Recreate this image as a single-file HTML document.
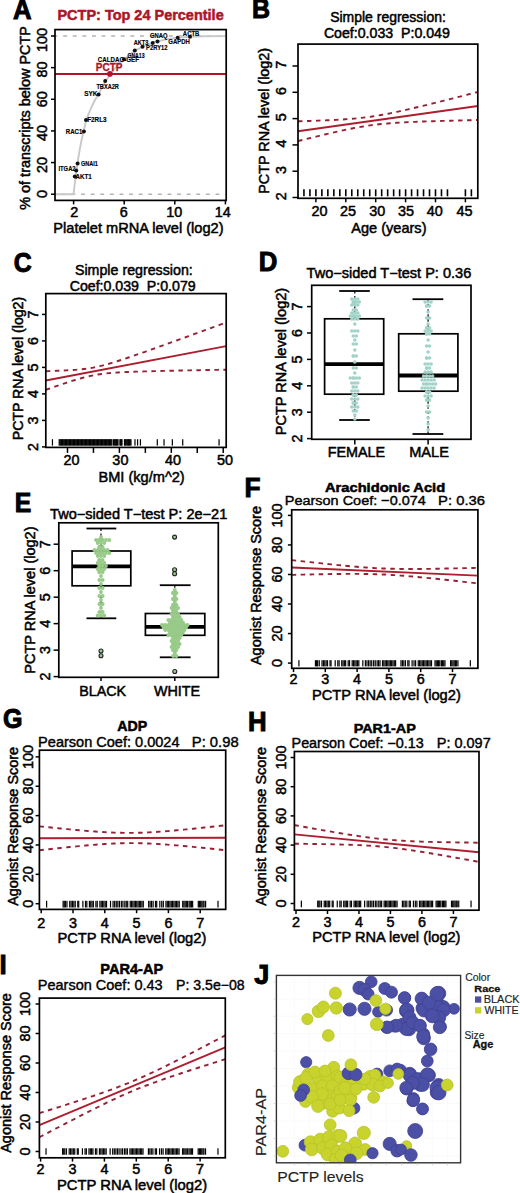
<!DOCTYPE html>
<html><head><meta charset="utf-8"><style>
html,body{margin:0;padding:0;background:#fff;}
body{width:520px;height:1193px;overflow:hidden;}
svg{display:block;font-family:"Liberation Sans",sans-serif;}
</style></head><body>
<svg width="520" height="1193" viewBox="0 0 520 1193">
<rect width="520" height="1193" fill="#fff"/>
<text x="13.06" y="18.5" font-size="27.62" textLength="18.58" lengthAdjust="spacingAndGlyphs" font-weight="bold" fill="#000" stroke="#000" stroke-width="1">A</text>
<text x="57.46" y="20.4" font-size="14.4" textLength="166.24" lengthAdjust="spacingAndGlyphs" font-weight="bold" fill="#ae1529" stroke="#ae1529" stroke-width="0.5">PCTP: Top 24 Percentile</text>
<line x1="55" y1="36" x2="226" y2="36" stroke="#b4b4b4" stroke-width="1.4" stroke-dasharray="3.9,5.7" stroke-dashoffset="1.4"/>
<line x1="55" y1="194.2" x2="226" y2="194.2" stroke="#b4b4b4" stroke-width="1.4" stroke-dasharray="3.9,5.7" stroke-dashoffset="2.7"/>
<polyline points="55,194.2 73.5,194.2 74.6,185 75.6,177 76.8,168 78.3,158 80,148 81.8,139 83.7,131 86,121 88.5,114 91.5,107 95,100 98.6,94.3 102,87.5 105.5,81.5 110,74.5 116,67 123,60.2 130,54.5 137,49.6 145,45.6 155,42 165,39.6 177,37.8 190,36.8 205,36.3 226,36.1" fill="none" stroke="#c9c9c9" stroke-width="1.9" stroke-linejoin="round"/>
<line x1="55" y1="74" x2="226" y2="74" stroke="#ae1529" stroke-width="2.1"/>
<circle cx="190" cy="36.7" r="2" fill="#111" stroke="none" stroke-width="0"/>
<text x="182.85" y="35.9" font-size="6.54" textLength="16.52" lengthAdjust="spacingAndGlyphs" font-weight="bold" fill="#000" stroke="#000" stroke-width="0.15">ACTB</text>
<circle cx="177.7" cy="37.8" r="2" fill="#111" stroke="none" stroke-width="0"/>
<text x="150.07" y="37.8" font-size="6.54" textLength="17.57" lengthAdjust="spacingAndGlyphs" font-weight="bold" fill="#000" stroke="#000" stroke-width="0.15">GNAQ</text>
<text x="168.36" y="43.9" font-size="6.54" textLength="21.53" lengthAdjust="spacingAndGlyphs" font-weight="bold" fill="#000" stroke="#000" stroke-width="0.15">GAPDH</text>
<circle cx="157.5" cy="41.6" r="2" fill="#111" stroke="none" stroke-width="0"/>
<circle cx="152.7" cy="43" r="2" fill="#111" stroke="none" stroke-width="0"/>
<text x="133.76" y="45.1" font-size="6.54" textLength="14.63" lengthAdjust="spacingAndGlyphs" font-weight="bold" fill="#000" stroke="#000" stroke-width="0.15">AKT3</text>
<circle cx="142.5" cy="46.8" r="2" fill="#111" stroke="none" stroke-width="0"/>
<text x="146.02" y="50.2" font-size="6.54" textLength="21.6" lengthAdjust="spacingAndGlyphs" font-weight="bold" fill="#000" stroke="#000" stroke-width="0.15">P2RY12</text>
<circle cx="134.8" cy="50.6" r="2" fill="#111" stroke="none" stroke-width="0"/>
<text x="127.39" y="57.5" font-size="6.54" textLength="17.18" lengthAdjust="spacingAndGlyphs" font-weight="bold" fill="#000" stroke="#000" stroke-width="0.15">GNA13</text>
<circle cx="124" cy="59.2" r="2" fill="#111" stroke="none" stroke-width="0"/>
<text x="97.85" y="61.6" font-size="6.54" textLength="41.07" lengthAdjust="spacingAndGlyphs" font-weight="bold" fill="#000" stroke="#000" stroke-width="0.15">CALDAG-GEF</text>
<circle cx="105.2" cy="81" r="2" fill="#111" stroke="none" stroke-width="0"/>
<text x="96.44" y="89.4" font-size="6.54" textLength="22.47" lengthAdjust="spacingAndGlyphs" font-weight="bold" fill="#000" stroke="#000" stroke-width="0.15">TBXA2R</text>
<circle cx="98.6" cy="94.6" r="2" fill="#111" stroke="none" stroke-width="0"/>
<text x="84.22" y="96.4" font-size="6.54" textLength="13.22" lengthAdjust="spacingAndGlyphs" font-weight="bold" fill="#000" stroke="#000" stroke-width="0.15">SYK</text>
<circle cx="86" cy="120.1" r="2" fill="#111" stroke="none" stroke-width="0"/>
<text x="87.19" y="121.9" font-size="6.54" textLength="19.43" lengthAdjust="spacingAndGlyphs" font-weight="bold" fill="#000" stroke="#000" stroke-width="0.15">F2RL3</text>
<circle cx="83.9" cy="131.5" r="2" fill="#111" stroke="none" stroke-width="0"/>
<text x="65.8" y="133.7" font-size="6.54" textLength="16.55" lengthAdjust="spacingAndGlyphs" font-weight="bold" fill="#000" stroke="#000" stroke-width="0.15">RAC1</text>
<circle cx="77.6" cy="163.4" r="2" fill="#111" stroke="none" stroke-width="0"/>
<text x="80.88" y="165.6" font-size="6.54" textLength="16.87" lengthAdjust="spacingAndGlyphs" font-weight="bold" fill="#000" stroke="#000" stroke-width="0.15">GNAI1</text>
<circle cx="76.2" cy="170.6" r="2" fill="#111" stroke="none" stroke-width="0"/>
<text x="58.42" y="170.7" font-size="6.54" textLength="17.2" lengthAdjust="spacingAndGlyphs" font-weight="bold" fill="#000" stroke="#000" stroke-width="0.15">ITGA2</text>
<circle cx="74.8" cy="176.5" r="2" fill="#111" stroke="none" stroke-width="0"/>
<text x="75.44" y="178.7" font-size="6.54" textLength="16.32" lengthAdjust="spacingAndGlyphs" font-weight="bold" fill="#000" stroke="#000" stroke-width="0.15">AKT1</text>
<circle cx="109.9" cy="73.9" r="2.8" fill="#ae1529" stroke="none" stroke-width="0"/>
<text x="95.75" y="71" font-size="10.47" textLength="26.67" lengthAdjust="spacingAndGlyphs" font-weight="bold" fill="#ae1529" stroke="#ae1529" stroke-width="0.3">PCTP</text>
<rect x="55" y="29.6" width="171.2" height="170.8" fill="none" stroke="#000" stroke-width="1.7"/>
<line x1="51" y1="194.2" x2="55" y2="194.2" stroke="#000" stroke-width="1.5"/>
<text x="46.8" y="197.9" font-size="14.4" textLength="8.01" lengthAdjust="spacingAndGlyphs" fill="#000" stroke="#000" stroke-width="0.5" transform="rotate(-90 46.8 197.9)">0</text>
<line x1="51" y1="162.56" x2="55" y2="162.56" stroke="#000" stroke-width="1.5"/>
<text x="46.8" y="173.01" font-size="14.4" textLength="16.02" lengthAdjust="spacingAndGlyphs" fill="#000" stroke="#000" stroke-width="0.5" transform="rotate(-90 46.8 173.01)">20</text>
<line x1="51" y1="130.92" x2="55" y2="130.92" stroke="#000" stroke-width="1.5"/>
<text x="46.8" y="141.01" font-size="14.4" textLength="16.02" lengthAdjust="spacingAndGlyphs" fill="#000" stroke="#000" stroke-width="0.5" transform="rotate(-90 46.8 141.01)">40</text>
<line x1="51" y1="99.28" x2="55" y2="99.28" stroke="#000" stroke-width="1.5"/>
<text x="46.8" y="107.31" font-size="14.4" textLength="16.02" lengthAdjust="spacingAndGlyphs" fill="#000" stroke="#000" stroke-width="0.5" transform="rotate(-90 46.8 107.31)">60</text>
<line x1="51" y1="67.64" x2="55" y2="67.64" stroke="#000" stroke-width="1.5"/>
<text x="46.8" y="77.51" font-size="14.4" textLength="16.02" lengthAdjust="spacingAndGlyphs" fill="#000" stroke="#000" stroke-width="0.5" transform="rotate(-90 46.8 77.51)">80</text>
<line x1="51" y1="36" x2="55" y2="36" stroke="#000" stroke-width="1.5"/>
<text x="46.8" y="52.01" font-size="14.4" textLength="24.03" lengthAdjust="spacingAndGlyphs" fill="#000" stroke="#000" stroke-width="0.5" transform="rotate(-90 46.8 52.01)">100</text>
<line x1="73.6" y1="200.4" x2="73.6" y2="204.4" stroke="#000" stroke-width="1.5"/>
<text x="70.2" y="217.4" font-size="14.4" textLength="8.01" lengthAdjust="spacingAndGlyphs" fill="#000" stroke="#000" stroke-width="0.5">2</text>
<line x1="124.2" y1="200.4" x2="124.2" y2="204.4" stroke="#000" stroke-width="1.5"/>
<text x="119.8" y="217.4" font-size="14.4" textLength="8.01" lengthAdjust="spacingAndGlyphs" fill="#000" stroke="#000" stroke-width="0.5">6</text>
<line x1="174.8" y1="200.4" x2="174.8" y2="204.4" stroke="#000" stroke-width="1.5"/>
<text x="166.19" y="217.4" font-size="14.4" textLength="16.02" lengthAdjust="spacingAndGlyphs" fill="#000" stroke="#000" stroke-width="0.5">10</text>
<line x1="225.4" y1="200.4" x2="225.4" y2="204.4" stroke="#000" stroke-width="1.5"/>
<text x="214.69" y="217.4" font-size="14.4" textLength="16.02" lengthAdjust="spacingAndGlyphs" fill="#000" stroke="#000" stroke-width="0.5">14</text>
<text x="53.33" y="233" font-size="14.4" textLength="170.23" lengthAdjust="spacingAndGlyphs" fill="#000" stroke="#000" stroke-width="0.5">Platelet mRNA level (log2)</text>
<text x="30" y="209.78" font-size="14.4" textLength="183.76" lengthAdjust="spacingAndGlyphs" fill="#000" stroke="#000" stroke-width="0.5" transform="rotate(-90 30 209.78)">% of transcripts below PCTP</text>
<text x="251.88" y="18.3" font-size="27.76" textLength="18.04" lengthAdjust="spacingAndGlyphs" font-weight="bold" fill="#000" stroke="#000" stroke-width="1">B</text>
<text x="330.17" y="21.6" font-size="14.4" textLength="115.71" lengthAdjust="spacingAndGlyphs" fill="#000" stroke="#000" stroke-width="0.5">Simple regression:</text>
<text x="323.89" y="37.5" font-size="14.4" textLength="125.96" lengthAdjust="spacingAndGlyphs" fill="#000" stroke="#000" stroke-width="0.5">Coef:0.033&#160;&#160;P:0.049</text>
<polyline points="298,121.3 300.25,121.23 302.5,121.17 304.74,121.1 306.99,121.03 309.24,120.96 311.49,120.88 313.73,120.81 315.98,120.73 318.23,120.64 320.48,120.56 322.72,120.47 324.97,120.38 327.22,120.28 329.47,120.18 331.71,120.07 333.96,119.96 336.21,119.84 338.45,119.72 340.7,119.59 342.95,119.45 345.2,119.3 347.44,119.14 349.69,118.97 351.94,118.79 354.19,118.6 356.44,118.39 358.68,118.17 360.93,117.93 363.18,117.68 365.43,117.41 367.67,117.12 369.92,116.82 372.17,116.5 374.42,116.15 376.66,115.8 378.91,115.42 381.16,115.03 383.4,114.62 385.65,114.2 387.9,113.76 390.15,113.31 392.39,112.85 394.64,112.38 396.89,111.9 399.14,111.41 401.38,110.91 403.63,110.41 405.88,109.9 408.13,109.38 410.38,108.85 412.62,108.33 414.87,107.79 417.12,107.26 419.37,106.71 421.61,106.17 423.86,105.62 426.11,105.07 428.36,104.52 430.6,103.96 432.85,103.41 435.1,102.85 437.35,102.29 439.59,101.72 441.84,101.16 444.09,100.59 446.34,100.02 448.58,99.45 450.83,98.88 453.08,98.31 455.32,97.74 457.57,97.17 459.82,96.59 462.07,96.02 464.31,95.44 466.56,94.87 468.81,94.29 471.06,93.71 473.31,93.13 475.55,92.55 477.8,91.97" fill="none" stroke="#952234" stroke-width="1.9" stroke-dasharray="4.5,4.5" stroke-linejoin="round"/>
<polyline points="298,141.1 300.25,140.54 302.5,139.97 304.74,139.41 306.99,138.85 309.24,138.29 311.49,137.74 313.73,137.18 315.98,136.63 318.23,136.09 320.48,135.54 322.72,135 324.97,134.46 327.22,133.93 329.47,133.4 331.71,132.88 333.96,132.36 336.21,131.85 338.45,131.34 340.7,130.84 342.95,130.35 345.2,129.87 347.44,129.4 349.69,128.94 351.94,128.49 354.19,128.05 356.44,127.63 358.68,127.22 360.93,126.83 363.18,126.45 365.43,126.09 367.67,125.75 369.92,125.42 372.17,125.11 374.42,124.83 376.66,124.55 378.91,124.3 381.16,124.06 383.4,123.84 385.65,123.63 387.9,123.44 390.15,123.26 392.39,123.09 394.64,122.93 396.89,122.78 399.14,122.64 401.38,122.51 403.63,122.38 405.88,122.26 408.13,122.15 410.38,122.05 412.62,121.94 414.87,121.85 417.12,121.75 419.37,121.67 421.61,121.58 423.86,121.5 426.11,121.42 428.36,121.34 430.6,121.27 432.85,121.19 435.1,121.12 437.35,121.05 439.59,120.99 441.84,120.92 444.09,120.86 446.34,120.8 448.58,120.74 450.83,120.68 453.08,120.62 455.32,120.56 457.57,120.5 459.82,120.45 462.07,120.39 464.31,120.34 466.56,120.28 468.81,120.23 471.06,120.18 473.31,120.13 475.55,120.08 477.8,120.03" fill="none" stroke="#952234" stroke-width="1.9" stroke-dasharray="4.5,4.5" stroke-linejoin="round"/>
<line x1="298" y1="131.2" x2="477.8" y2="106" stroke="#ad1e2e" stroke-width="1.9"/>
<line x1="303.94" y1="189.3" x2="303.94" y2="196.3" stroke="#000" stroke-width="1.6"/>
<line x1="309.92" y1="189.3" x2="309.92" y2="196.3" stroke="#000" stroke-width="1.6"/>
<line x1="315.9" y1="189.3" x2="315.9" y2="196.3" stroke="#000" stroke-width="1.6"/>
<line x1="321.88" y1="189.3" x2="321.88" y2="196.3" stroke="#000" stroke-width="1.6"/>
<line x1="327.86" y1="189.3" x2="327.86" y2="196.3" stroke="#000" stroke-width="1.6"/>
<line x1="333.84" y1="189.3" x2="333.84" y2="196.3" stroke="#000" stroke-width="1.6"/>
<line x1="339.82" y1="189.3" x2="339.82" y2="196.3" stroke="#000" stroke-width="1.6"/>
<line x1="345.8" y1="189.3" x2="345.8" y2="196.3" stroke="#000" stroke-width="1.6"/>
<line x1="351.78" y1="189.3" x2="351.78" y2="196.3" stroke="#000" stroke-width="1.6"/>
<line x1="357.76" y1="189.3" x2="357.76" y2="196.3" stroke="#000" stroke-width="1.6"/>
<line x1="363.74" y1="189.3" x2="363.74" y2="196.3" stroke="#000" stroke-width="1.6"/>
<line x1="369.72" y1="189.3" x2="369.72" y2="196.3" stroke="#000" stroke-width="1.6"/>
<line x1="375.7" y1="189.3" x2="375.7" y2="196.3" stroke="#000" stroke-width="1.6"/>
<line x1="381.68" y1="189.3" x2="381.68" y2="196.3" stroke="#000" stroke-width="1.6"/>
<line x1="387.66" y1="189.3" x2="387.66" y2="196.3" stroke="#000" stroke-width="1.6"/>
<line x1="393.64" y1="189.3" x2="393.64" y2="196.3" stroke="#000" stroke-width="1.6"/>
<line x1="399.62" y1="189.3" x2="399.62" y2="196.3" stroke="#000" stroke-width="1.6"/>
<line x1="405.6" y1="189.3" x2="405.6" y2="196.3" stroke="#000" stroke-width="1.6"/>
<line x1="411.58" y1="189.3" x2="411.58" y2="196.3" stroke="#000" stroke-width="1.6"/>
<line x1="417.56" y1="189.3" x2="417.56" y2="196.3" stroke="#000" stroke-width="1.6"/>
<line x1="423.54" y1="189.3" x2="423.54" y2="196.3" stroke="#000" stroke-width="1.6"/>
<line x1="429.52" y1="189.3" x2="429.52" y2="196.3" stroke="#000" stroke-width="1.6"/>
<line x1="435.5" y1="189.3" x2="435.5" y2="196.3" stroke="#000" stroke-width="1.6"/>
<line x1="441.48" y1="189.3" x2="441.48" y2="196.3" stroke="#000" stroke-width="1.6"/>
<line x1="447.46" y1="189.3" x2="447.46" y2="196.3" stroke="#000" stroke-width="1.6"/>
<line x1="465.4" y1="189.3" x2="465.4" y2="196.3" stroke="#000" stroke-width="1.6"/>
<line x1="471.38" y1="189.3" x2="471.38" y2="196.3" stroke="#000" stroke-width="1.6"/>
<rect x="298" y="44.1" width="179.8" height="154.2" fill="none" stroke="#000" stroke-width="1.7"/>
<line x1="292.5" y1="197.5" x2="298" y2="197.5" stroke="#000" stroke-width="1.5"/>
<text x="286.1" y="200.2" font-size="14.4" textLength="8.01" lengthAdjust="spacingAndGlyphs" fill="#000" stroke="#000" stroke-width="0.5" transform="rotate(-90 286.1 200.2)">2</text>
<line x1="292.5" y1="171.2" x2="298" y2="171.2" stroke="#000" stroke-width="1.5"/>
<text x="286.1" y="173.9" font-size="14.4" textLength="8.01" lengthAdjust="spacingAndGlyphs" fill="#000" stroke="#000" stroke-width="0.5" transform="rotate(-90 286.1 173.9)">3</text>
<line x1="292.5" y1="144.9" x2="298" y2="144.9" stroke="#000" stroke-width="1.5"/>
<text x="286.1" y="147.6" font-size="14.4" textLength="8.01" lengthAdjust="spacingAndGlyphs" fill="#000" stroke="#000" stroke-width="0.5" transform="rotate(-90 286.1 147.6)">4</text>
<line x1="292.5" y1="118.6" x2="298" y2="118.6" stroke="#000" stroke-width="1.5"/>
<text x="286.1" y="121.3" font-size="14.4" textLength="8.01" lengthAdjust="spacingAndGlyphs" fill="#000" stroke="#000" stroke-width="0.5" transform="rotate(-90 286.1 121.3)">5</text>
<line x1="292.5" y1="92.3" x2="298" y2="92.3" stroke="#000" stroke-width="1.5"/>
<text x="286.1" y="95" font-size="14.4" textLength="8.01" lengthAdjust="spacingAndGlyphs" fill="#000" stroke="#000" stroke-width="0.5" transform="rotate(-90 286.1 95)">6</text>
<line x1="292.5" y1="66" x2="298" y2="66" stroke="#000" stroke-width="1.5"/>
<text x="286.1" y="68.7" font-size="14.4" textLength="8.01" lengthAdjust="spacingAndGlyphs" fill="#000" stroke="#000" stroke-width="0.5" transform="rotate(-90 286.1 68.7)">7</text>
<line x1="315.9" y1="198.3" x2="315.9" y2="202.3" stroke="#000" stroke-width="1.5"/>
<text x="311.39" y="216.2" font-size="14.4" textLength="16.02" lengthAdjust="spacingAndGlyphs" fill="#000" stroke="#000" stroke-width="0.5">20</text>
<line x1="345.8" y1="198.3" x2="345.8" y2="202.3" stroke="#000" stroke-width="1.5"/>
<text x="339.99" y="216.2" font-size="14.4" textLength="16.02" lengthAdjust="spacingAndGlyphs" fill="#000" stroke="#000" stroke-width="0.5">25</text>
<line x1="375.7" y1="198.3" x2="375.7" y2="202.3" stroke="#000" stroke-width="1.5"/>
<text x="369.19" y="216.2" font-size="14.4" textLength="16.02" lengthAdjust="spacingAndGlyphs" fill="#000" stroke="#000" stroke-width="0.5">30</text>
<line x1="405.6" y1="198.3" x2="405.6" y2="202.3" stroke="#000" stroke-width="1.5"/>
<text x="397.99" y="216.2" font-size="14.4" textLength="16.02" lengthAdjust="spacingAndGlyphs" fill="#000" stroke="#000" stroke-width="0.5">35</text>
<line x1="435.5" y1="198.3" x2="435.5" y2="202.3" stroke="#000" stroke-width="1.5"/>
<text x="426.79" y="216.2" font-size="14.4" textLength="16.02" lengthAdjust="spacingAndGlyphs" fill="#000" stroke="#000" stroke-width="0.5">40</text>
<line x1="465.4" y1="198.3" x2="465.4" y2="202.3" stroke="#000" stroke-width="1.5"/>
<text x="456.39" y="216.2" font-size="14.4" textLength="16.02" lengthAdjust="spacingAndGlyphs" fill="#000" stroke="#000" stroke-width="0.5">45</text>
<text x="351.3" y="233.4" font-size="14.4" textLength="75.19" lengthAdjust="spacingAndGlyphs" fill="#000" stroke="#000" stroke-width="0.5">Age (years)</text>
<text x="268.7" y="193.7" font-size="14.4" textLength="145.81" lengthAdjust="spacingAndGlyphs" fill="#000" stroke="#000" stroke-width="0.5" transform="rotate(-90 268.7 193.7)">PCTP RNA level (log2)</text>
<text x="13.7" y="271.5" font-size="28.34" textLength="17.97" lengthAdjust="spacingAndGlyphs" font-weight="bold" fill="#000" stroke="#000" stroke-width="1">C</text>
<text x="74.96" y="275" font-size="14.4" textLength="117.84" lengthAdjust="spacingAndGlyphs" fill="#000" stroke="#000" stroke-width="0.5">Simple regression:</text>
<text x="69.69" y="290.6" font-size="14.4" textLength="125.96" lengthAdjust="spacingAndGlyphs" fill="#000" stroke="#000" stroke-width="0.5">Coef:0.039&#160;&#160;P:0.079</text>
<polyline points="45.8,371.22 48.05,371.14 50.31,371.07 52.56,370.99 54.82,370.91 57.07,370.82 59.33,370.73 61.58,370.63 63.84,370.52 66.09,370.41 68.35,370.28 70.6,370.15 72.86,370 75.11,369.83 77.37,369.65 79.62,369.44 81.88,369.22 84.13,368.96 86.39,368.67 88.64,368.35 90.9,367.99 93.16,367.6 95.41,367.16 97.66,366.68 99.92,366.16 102.17,365.61 104.43,365.02 106.68,364.4 108.94,363.76 111.19,363.1 113.45,362.41 115.7,361.71 117.96,360.99 120.21,360.26 122.47,359.52 124.72,358.78 126.98,358.02 129.23,357.26 131.49,356.49 133.75,355.71 136,354.93 138.25,354.15 140.51,353.36 142.76,352.57 145.02,351.78 147.27,350.98 149.53,350.19 151.78,349.39 154.04,348.58 156.29,347.78 158.55,346.98 160.81,346.17 163.06,345.36 165.31,344.56 167.57,343.75 169.82,342.94 172.08,342.12 174.33,341.31 176.59,340.5 178.84,339.69 181.1,338.87 183.35,338.06 185.61,337.24 187.87,336.43 190.12,335.61 192.38,334.79 194.63,333.98 196.88,333.16 199.14,332.34 201.39,331.52 203.65,330.71 205.9,329.89 208.16,329.07 210.41,328.25 212.67,327.43 214.92,326.61 217.18,325.79 219.43,324.97 221.69,324.15 223.94,323.33 226.2,322.51" fill="none" stroke="#952234" stroke-width="1.9" stroke-dasharray="4.5,4.5" stroke-linejoin="round"/>
<polyline points="45.8,389.78 48.05,389 50.31,388.21 52.56,387.43 54.82,386.65 57.07,385.88 59.33,385.11 61.58,384.35 63.84,383.6 66.09,382.85 68.35,382.12 70.6,381.39 72.86,380.68 75.11,379.99 77.37,379.31 79.62,378.66 81.88,378.02 84.13,377.42 86.39,376.85 88.64,376.31 90.9,375.81 93.16,375.34 95.41,374.92 97.66,374.54 99.92,374.2 102.17,373.89 104.43,373.62 106.68,373.38 108.94,373.16 111.19,372.96 113.45,372.79 115.7,372.63 117.96,372.49 120.21,372.36 122.47,372.24 124.72,372.12 126.98,372.02 129.23,371.92 131.49,371.83 133.75,371.75 136,371.67 138.25,371.59 140.51,371.52 142.76,371.45 145.02,371.38 147.27,371.32 149.53,371.25 151.78,371.19 154.04,371.14 156.29,371.08 158.55,371.02 160.81,370.97 163.06,370.92 165.31,370.86 167.57,370.81 169.82,370.76 172.08,370.72 174.33,370.67 176.59,370.62 178.84,370.57 181.1,370.53 183.35,370.48 185.61,370.44 187.87,370.39 190.12,370.35 192.38,370.31 194.63,370.26 196.88,370.22 199.14,370.18 201.39,370.14 203.65,370.09 205.9,370.05 208.16,370.01 210.41,369.97 212.67,369.93 214.92,369.89 217.18,369.85 219.43,369.81 221.69,369.77 223.94,369.73 226.2,369.69" fill="none" stroke="#952234" stroke-width="1.9" stroke-dasharray="4.5,4.5" stroke-linejoin="round"/>
<line x1="45.8" y1="380.5" x2="226.2" y2="346.1" stroke="#ad1e2e" stroke-width="1.9"/>
<rect x="51.85" y="439.2" width="1.2" height="6.4" fill="#000"/>
<rect x="58.6" y="439.2" width="1.2" height="6.4" fill="#000"/>
<rect x="59.39" y="439.2" width="1.2" height="6.4" fill="#000"/>
<rect x="60.19" y="439.2" width="1.2" height="6.4" fill="#000"/>
<rect x="60.99" y="439.2" width="1.2" height="6.4" fill="#000"/>
<rect x="61.79" y="439.2" width="1.2" height="6.4" fill="#000"/>
<rect x="62.59" y="439.2" width="1.2" height="6.4" fill="#000"/>
<rect x="63.39" y="439.2" width="1.2" height="6.4" fill="#000"/>
<rect x="64.19" y="439.2" width="1.2" height="6.4" fill="#000"/>
<rect x="64.98" y="439.2" width="1.2" height="6.4" fill="#000"/>
<rect x="65.78" y="439.2" width="1.2" height="6.4" fill="#000"/>
<rect x="66.58" y="439.2" width="1.2" height="6.4" fill="#000"/>
<rect x="67.38" y="439.2" width="1.2" height="6.4" fill="#000"/>
<rect x="68.18" y="439.2" width="1.2" height="6.4" fill="#000"/>
<rect x="68.98" y="439.2" width="1.2" height="6.4" fill="#000"/>
<rect x="69.77" y="439.2" width="1.2" height="6.4" fill="#000"/>
<rect x="70.57" y="439.2" width="1.2" height="6.4" fill="#000"/>
<rect x="71.37" y="439.2" width="1.2" height="6.4" fill="#000"/>
<rect x="72.17" y="439.2" width="1.2" height="6.4" fill="#000"/>
<rect x="72.97" y="439.2" width="1.2" height="6.4" fill="#000"/>
<rect x="73.77" y="439.2" width="1.2" height="6.4" fill="#000"/>
<rect x="74.57" y="439.2" width="1.2" height="6.4" fill="#000"/>
<rect x="75.36" y="439.2" width="1.2" height="6.4" fill="#000"/>
<rect x="76.16" y="439.2" width="1.2" height="6.4" fill="#000"/>
<rect x="76.96" y="439.2" width="1.2" height="6.4" fill="#000"/>
<rect x="77.76" y="439.2" width="1.2" height="6.4" fill="#000"/>
<rect x="78.56" y="439.2" width="1.2" height="6.4" fill="#000"/>
<rect x="79.36" y="439.2" width="1.2" height="6.4" fill="#000"/>
<rect x="80.15" y="439.2" width="1.2" height="6.4" fill="#000"/>
<rect x="80.95" y="439.2" width="1.2" height="6.4" fill="#000"/>
<rect x="81.75" y="439.2" width="1.2" height="6.4" fill="#000"/>
<rect x="82.55" y="439.2" width="1.2" height="6.4" fill="#000"/>
<rect x="83.35" y="439.2" width="1.2" height="6.4" fill="#000"/>
<rect x="84.15" y="439.2" width="1.2" height="6.4" fill="#000"/>
<rect x="84.95" y="439.2" width="1.2" height="6.4" fill="#000"/>
<rect x="85.74" y="439.2" width="1.2" height="6.4" fill="#000"/>
<rect x="86.54" y="439.2" width="1.2" height="6.4" fill="#000"/>
<rect x="87.34" y="439.2" width="1.2" height="6.4" fill="#000"/>
<rect x="88.14" y="439.2" width="1.2" height="6.4" fill="#000"/>
<rect x="88.94" y="439.2" width="1.2" height="6.4" fill="#000"/>
<rect x="89.74" y="439.2" width="1.2" height="6.4" fill="#000"/>
<rect x="90.53" y="439.2" width="1.2" height="6.4" fill="#000"/>
<rect x="91.33" y="439.2" width="1.2" height="6.4" fill="#000"/>
<rect x="92.13" y="439.2" width="1.2" height="6.4" fill="#000"/>
<rect x="92.93" y="439.2" width="1.2" height="6.4" fill="#000"/>
<rect x="93.73" y="439.2" width="1.2" height="6.4" fill="#000"/>
<rect x="94.53" y="439.2" width="1.2" height="6.4" fill="#000"/>
<rect x="95.33" y="439.2" width="1.2" height="6.4" fill="#000"/>
<rect x="96.12" y="439.2" width="1.2" height="6.4" fill="#000"/>
<rect x="96.92" y="439.2" width="1.2" height="6.4" fill="#000"/>
<rect x="97.72" y="439.2" width="1.2" height="6.4" fill="#000"/>
<rect x="98.52" y="439.2" width="1.2" height="6.4" fill="#000"/>
<rect x="99.32" y="439.2" width="1.2" height="6.4" fill="#000"/>
<rect x="100.12" y="439.2" width="1.2" height="6.4" fill="#000"/>
<rect x="100.91" y="439.2" width="1.2" height="6.4" fill="#000"/>
<rect x="101.71" y="439.2" width="1.2" height="6.4" fill="#000"/>
<rect x="102.51" y="439.2" width="1.2" height="6.4" fill="#000"/>
<rect x="103.31" y="439.2" width="1.2" height="6.4" fill="#000"/>
<rect x="104.11" y="439.2" width="1.2" height="6.4" fill="#000"/>
<rect x="104.91" y="439.2" width="1.2" height="6.4" fill="#000"/>
<rect x="105.71" y="439.2" width="1.2" height="6.4" fill="#000"/>
<rect x="106.5" y="439.2" width="1.2" height="6.4" fill="#000"/>
<rect x="107.3" y="439.2" width="1.2" height="6.4" fill="#000"/>
<rect x="108.1" y="439.2" width="1.2" height="6.4" fill="#000"/>
<rect x="108.9" y="439.2" width="1.2" height="6.4" fill="#000"/>
<rect x="109.7" y="439.2" width="1.2" height="6.4" fill="#000"/>
<rect x="110.5" y="439.2" width="1.2" height="6.4" fill="#000"/>
<rect x="111.27" y="439.2" width="1.2" height="6.4" fill="#000"/>
<rect x="112.88" y="439.2" width="1.2" height="6.4" fill="#000"/>
<rect x="113.64" y="439.2" width="1.2" height="6.4" fill="#000"/>
<rect x="114.39" y="439.2" width="1.2" height="6.4" fill="#000"/>
<rect x="115.14" y="439.2" width="1.2" height="6.4" fill="#000"/>
<rect x="115.89" y="439.2" width="1.2" height="6.4" fill="#000"/>
<rect x="116.65" y="439.2" width="1.2" height="6.4" fill="#000"/>
<rect x="117.4" y="439.2" width="1.2" height="6.4" fill="#000"/>
<rect x="119.32" y="439.2" width="1.2" height="6.4" fill="#000"/>
<rect x="120.01" y="439.2" width="1.2" height="6.4" fill="#000"/>
<rect x="120.7" y="439.2" width="1.2" height="6.4" fill="#000"/>
<rect x="121.4" y="439.2" width="1.2" height="6.4" fill="#000"/>
<rect x="123.89" y="439.2" width="1.2" height="6.4" fill="#000"/>
<rect x="124.7" y="439.2" width="1.2" height="6.4" fill="#000"/>
<rect x="125.51" y="439.2" width="1.2" height="6.4" fill="#000"/>
<rect x="126.32" y="439.2" width="1.2" height="6.4" fill="#000"/>
<rect x="127.13" y="439.2" width="1.2" height="6.4" fill="#000"/>
<rect x="127.94" y="439.2" width="1.2" height="6.4" fill="#000"/>
<rect x="128.75" y="439.2" width="1.2" height="6.4" fill="#000"/>
<rect x="129.56" y="439.2" width="1.2" height="6.4" fill="#000"/>
<rect x="130.37" y="439.2" width="1.2" height="6.4" fill="#000"/>
<rect x="134.37" y="439.2" width="1.2" height="6.4" fill="#000"/>
<rect x="136.97" y="439.2" width="1.2" height="6.4" fill="#000"/>
<rect x="139.82" y="439.2" width="1.2" height="6.4" fill="#000"/>
<rect x="156.69" y="439.2" width="1.2" height="6.4" fill="#000"/>
<rect x="163.43" y="439.2" width="1.2" height="6.4" fill="#000"/>
<rect x="171.74" y="439.2" width="1.2" height="6.4" fill="#000"/>
<rect x="182.12" y="439.2" width="1.2" height="6.4" fill="#000"/>
<rect x="218.45" y="439.2" width="1.2" height="6.4" fill="#000"/>
<rect x="45.8" y="293.6" width="180.4" height="153.8" fill="none" stroke="#000" stroke-width="1.7"/>
<line x1="42" y1="446.9" x2="45.8" y2="446.9" stroke="#000" stroke-width="1.5"/>
<text x="38.4" y="450.9" font-size="14.4" textLength="8.01" lengthAdjust="spacingAndGlyphs" fill="#000" stroke="#000" stroke-width="0.5" transform="rotate(-90 38.4 450.9)">2</text>
<line x1="42" y1="420.4" x2="45.8" y2="420.4" stroke="#000" stroke-width="1.5"/>
<text x="38.4" y="424.4" font-size="14.4" textLength="8.01" lengthAdjust="spacingAndGlyphs" fill="#000" stroke="#000" stroke-width="0.5" transform="rotate(-90 38.4 424.4)">3</text>
<line x1="42" y1="393.9" x2="45.8" y2="393.9" stroke="#000" stroke-width="1.5"/>
<text x="38.4" y="397.9" font-size="14.4" textLength="8.01" lengthAdjust="spacingAndGlyphs" fill="#000" stroke="#000" stroke-width="0.5" transform="rotate(-90 38.4 397.9)">4</text>
<line x1="42" y1="367.4" x2="45.8" y2="367.4" stroke="#000" stroke-width="1.5"/>
<text x="38.4" y="371.4" font-size="14.4" textLength="8.01" lengthAdjust="spacingAndGlyphs" fill="#000" stroke="#000" stroke-width="0.5" transform="rotate(-90 38.4 371.4)">5</text>
<line x1="42" y1="340.9" x2="45.8" y2="340.9" stroke="#000" stroke-width="1.5"/>
<text x="38.4" y="344.9" font-size="14.4" textLength="8.01" lengthAdjust="spacingAndGlyphs" fill="#000" stroke="#000" stroke-width="0.5" transform="rotate(-90 38.4 344.9)">6</text>
<line x1="42" y1="314.4" x2="45.8" y2="314.4" stroke="#000" stroke-width="1.5"/>
<text x="38.4" y="318.4" font-size="14.4" textLength="8.01" lengthAdjust="spacingAndGlyphs" fill="#000" stroke="#000" stroke-width="0.5" transform="rotate(-90 38.4 318.4)">7</text>
<line x1="67.5" y1="447.4" x2="67.5" y2="452.9" stroke="#000" stroke-width="1.5"/>
<text x="63.49" y="465.3" font-size="14.4" textLength="16.02" lengthAdjust="spacingAndGlyphs" fill="#000" stroke="#000" stroke-width="0.5">20</text>
<line x1="93.45" y1="447.4" x2="93.45" y2="452.9" stroke="#000" stroke-width="1.5"/>
<line x1="119.4" y1="447.4" x2="119.4" y2="452.9" stroke="#000" stroke-width="1.5"/>
<text x="112.39" y="465.3" font-size="14.4" textLength="16.02" lengthAdjust="spacingAndGlyphs" fill="#000" stroke="#000" stroke-width="0.5">30</text>
<line x1="145.35" y1="447.4" x2="145.35" y2="452.9" stroke="#000" stroke-width="1.5"/>
<line x1="171.3" y1="447.4" x2="171.3" y2="452.9" stroke="#000" stroke-width="1.5"/>
<text x="165.09" y="465.3" font-size="14.4" textLength="16.02" lengthAdjust="spacingAndGlyphs" fill="#000" stroke="#000" stroke-width="0.5">40</text>
<line x1="197.25" y1="447.4" x2="197.25" y2="452.9" stroke="#000" stroke-width="1.5"/>
<line x1="223.2" y1="447.4" x2="223.2" y2="452.9" stroke="#000" stroke-width="1.5"/>
<text x="216.99" y="465.3" font-size="14.4" textLength="16.02" lengthAdjust="spacingAndGlyphs" fill="#000" stroke="#000" stroke-width="0.5">50</text>
<text x="98.53" y="482" font-size="14.4" textLength="86.16" lengthAdjust="spacingAndGlyphs" fill="#000" stroke="#000" stroke-width="0.5">BMI (kg/m^2)</text>
<text x="22.8" y="440.29" font-size="14.4" textLength="143.47" lengthAdjust="spacingAndGlyphs" fill="#000" stroke="#000" stroke-width="0.5" transform="rotate(-90 22.8 440.29)">PCTP RNA level (log2)</text>
<text x="258.83" y="271.2" font-size="27.33" textLength="18.6" lengthAdjust="spacingAndGlyphs" font-weight="bold" fill="#000" stroke="#000" stroke-width="1">D</text>
<text x="306.61" y="277.6" font-size="14.4" textLength="164.64" lengthAdjust="spacingAndGlyphs" fill="#000" stroke="#000" stroke-width="0.5">Two−sided T−test P: 0.36</text>
<line x1="354.8" y1="291" x2="354.8" y2="318.8" stroke="#000" stroke-width="1.2" stroke-dasharray="2.5,2.5"/>
<line x1="354.8" y1="394.2" x2="354.8" y2="420" stroke="#000" stroke-width="1.2" stroke-dasharray="2.5,2.5"/>
<line x1="339.2" y1="291" x2="369.8" y2="291" stroke="#000" stroke-width="1.8"/>
<line x1="339.2" y1="420" x2="369.8" y2="420" stroke="#000" stroke-width="1.8"/>
<rect x="324.6" y="318.8" width="59.1" height="75.4" fill="none" stroke="#000" stroke-width="1.7"/>
<line x1="324.6" y1="364.2" x2="383.7" y2="364.2" stroke="#000" stroke-width="3.8"/>
<line x1="428.1" y1="299.2" x2="428.1" y2="333.8" stroke="#000" stroke-width="1.2" stroke-dasharray="2.5,2.5"/>
<line x1="428.1" y1="391.2" x2="428.1" y2="434" stroke="#000" stroke-width="1.2" stroke-dasharray="2.5,2.5"/>
<line x1="412.5" y1="299.2" x2="443.3" y2="299.2" stroke="#000" stroke-width="1.8"/>
<line x1="412.5" y1="434" x2="443.3" y2="434" stroke="#000" stroke-width="1.8"/>
<rect x="398.7" y="333.8" width="59.2" height="57.4" fill="none" stroke="#000" stroke-width="1.7"/>
<line x1="398.7" y1="375.5" x2="457.9" y2="375.5" stroke="#000" stroke-width="3.8"/>
<circle cx="354.8" cy="299" r="1.8" fill="#a2d3c8" stroke="none" stroke-width="0"/>
<circle cx="357.8" cy="299" r="1.8" fill="#a2d3c8" stroke="none" stroke-width="0"/>
<circle cx="351.8" cy="299" r="1.8" fill="#a2d3c8" stroke="none" stroke-width="0"/>
<circle cx="356.3" cy="302" r="1.8" fill="#a2d3c8" stroke="none" stroke-width="0"/>
<circle cx="359.3" cy="302" r="1.8" fill="#a2d3c8" stroke="none" stroke-width="0"/>
<circle cx="353.3" cy="302" r="1.8" fill="#a2d3c8" stroke="none" stroke-width="0"/>
<circle cx="353.3" cy="302" r="1.8" fill="#a2d3c8" stroke="none" stroke-width="0"/>
<circle cx="354.8" cy="305" r="1.8" fill="#a2d3c8" stroke="none" stroke-width="0"/>
<circle cx="357.8" cy="305" r="1.8" fill="#a2d3c8" stroke="none" stroke-width="0"/>
<circle cx="351.8" cy="305" r="1.8" fill="#a2d3c8" stroke="none" stroke-width="0"/>
<circle cx="356.3" cy="310" r="1.8" fill="#a2d3c8" stroke="none" stroke-width="0"/>
<circle cx="353.3" cy="310" r="1.8" fill="#a2d3c8" stroke="none" stroke-width="0"/>
<circle cx="354.8" cy="313" r="1.8" fill="#a2d3c8" stroke="none" stroke-width="0"/>
<circle cx="357.8" cy="313" r="1.8" fill="#a2d3c8" stroke="none" stroke-width="0"/>
<circle cx="351.8" cy="313" r="1.8" fill="#a2d3c8" stroke="none" stroke-width="0"/>
<circle cx="356.3" cy="316" r="1.8" fill="#a2d3c8" stroke="none" stroke-width="0"/>
<circle cx="359.3" cy="316" r="1.8" fill="#a2d3c8" stroke="none" stroke-width="0"/>
<circle cx="353.3" cy="316" r="1.8" fill="#a2d3c8" stroke="none" stroke-width="0"/>
<circle cx="350.3" cy="316" r="1.8" fill="#a2d3c8" stroke="none" stroke-width="0"/>
<circle cx="353.3" cy="316" r="1.8" fill="#a2d3c8" stroke="none" stroke-width="0"/>
<circle cx="354.8" cy="319" r="1.8" fill="#a2d3c8" stroke="none" stroke-width="0"/>
<circle cx="357.8" cy="319" r="1.8" fill="#a2d3c8" stroke="none" stroke-width="0"/>
<circle cx="351.8" cy="319" r="1.8" fill="#a2d3c8" stroke="none" stroke-width="0"/>
<circle cx="354.8" cy="324" r="1.8" fill="#a2d3c8" stroke="none" stroke-width="0"/>
<circle cx="354.8" cy="331" r="1.8" fill="#a2d3c8" stroke="none" stroke-width="0"/>
<circle cx="357.8" cy="331" r="1.8" fill="#a2d3c8" stroke="none" stroke-width="0"/>
<circle cx="351.8" cy="331" r="1.8" fill="#a2d3c8" stroke="none" stroke-width="0"/>
<circle cx="356.3" cy="336" r="1.8" fill="#a2d3c8" stroke="none" stroke-width="0"/>
<circle cx="353.3" cy="336" r="1.8" fill="#a2d3c8" stroke="none" stroke-width="0"/>
<circle cx="354.8" cy="340" r="1.8" fill="#a2d3c8" stroke="none" stroke-width="0"/>
<circle cx="356.3" cy="344" r="1.8" fill="#a2d3c8" stroke="none" stroke-width="0"/>
<circle cx="353.3" cy="344" r="1.8" fill="#a2d3c8" stroke="none" stroke-width="0"/>
<circle cx="354.8" cy="350" r="1.8" fill="#a2d3c8" stroke="none" stroke-width="0"/>
<circle cx="356.3" cy="356" r="1.8" fill="#a2d3c8" stroke="none" stroke-width="0"/>
<circle cx="353.3" cy="356" r="1.8" fill="#a2d3c8" stroke="none" stroke-width="0"/>
<circle cx="353.3" cy="356" r="1.8" fill="#a2d3c8" stroke="none" stroke-width="0"/>
<circle cx="354.8" cy="362" r="1.8" fill="#a2d3c8" stroke="none" stroke-width="0"/>
<circle cx="356.3" cy="368" r="1.8" fill="#a2d3c8" stroke="none" stroke-width="0"/>
<circle cx="353.3" cy="368" r="1.8" fill="#a2d3c8" stroke="none" stroke-width="0"/>
<circle cx="354.8" cy="373" r="1.8" fill="#a2d3c8" stroke="none" stroke-width="0"/>
<circle cx="356.3" cy="378" r="1.8" fill="#a2d3c8" stroke="none" stroke-width="0"/>
<circle cx="359.3" cy="378" r="1.8" fill="#a2d3c8" stroke="none" stroke-width="0"/>
<circle cx="353.3" cy="378" r="1.8" fill="#a2d3c8" stroke="none" stroke-width="0"/>
<circle cx="350.3" cy="378" r="1.8" fill="#a2d3c8" stroke="none" stroke-width="0"/>
<circle cx="353.3" cy="378" r="1.8" fill="#a2d3c8" stroke="none" stroke-width="0"/>
<circle cx="354.8" cy="383" r="1.8" fill="#a2d3c8" stroke="none" stroke-width="0"/>
<circle cx="357.8" cy="383" r="1.8" fill="#a2d3c8" stroke="none" stroke-width="0"/>
<circle cx="351.8" cy="383" r="1.8" fill="#a2d3c8" stroke="none" stroke-width="0"/>
<circle cx="356.3" cy="387" r="1.8" fill="#a2d3c8" stroke="none" stroke-width="0"/>
<circle cx="353.3" cy="387" r="1.8" fill="#a2d3c8" stroke="none" stroke-width="0"/>
<circle cx="353.3" cy="387" r="1.8" fill="#a2d3c8" stroke="none" stroke-width="0"/>
<circle cx="354.8" cy="391" r="1.8" fill="#a2d3c8" stroke="none" stroke-width="0"/>
<circle cx="357.8" cy="391" r="1.8" fill="#a2d3c8" stroke="none" stroke-width="0"/>
<circle cx="351.8" cy="391" r="1.8" fill="#a2d3c8" stroke="none" stroke-width="0"/>
<circle cx="356.3" cy="395" r="1.8" fill="#a2d3c8" stroke="none" stroke-width="0"/>
<circle cx="353.3" cy="395" r="1.8" fill="#a2d3c8" stroke="none" stroke-width="0"/>
<circle cx="353.3" cy="395" r="1.8" fill="#a2d3c8" stroke="none" stroke-width="0"/>
<circle cx="354.8" cy="399" r="1.8" fill="#a2d3c8" stroke="none" stroke-width="0"/>
<circle cx="357.8" cy="399" r="1.8" fill="#a2d3c8" stroke="none" stroke-width="0"/>
<circle cx="351.8" cy="399" r="1.8" fill="#a2d3c8" stroke="none" stroke-width="0"/>
<circle cx="356.3" cy="403" r="1.8" fill="#a2d3c8" stroke="none" stroke-width="0"/>
<circle cx="353.3" cy="403" r="1.8" fill="#a2d3c8" stroke="none" stroke-width="0"/>
<circle cx="353.3" cy="403" r="1.8" fill="#a2d3c8" stroke="none" stroke-width="0"/>
<circle cx="354.8" cy="407" r="1.8" fill="#a2d3c8" stroke="none" stroke-width="0"/>
<circle cx="357.8" cy="407" r="1.8" fill="#a2d3c8" stroke="none" stroke-width="0"/>
<circle cx="351.8" cy="407" r="1.8" fill="#a2d3c8" stroke="none" stroke-width="0"/>
<circle cx="356.3" cy="411" r="1.8" fill="#a2d3c8" stroke="none" stroke-width="0"/>
<circle cx="353.3" cy="411" r="1.8" fill="#a2d3c8" stroke="none" stroke-width="0"/>
<circle cx="354.8" cy="415" r="1.8" fill="#a2d3c8" stroke="none" stroke-width="0"/>
<circle cx="354.8" cy="419" r="1.8" fill="#a2d3c8" stroke="none" stroke-width="0"/>
<circle cx="428.1" cy="302" r="1.8" fill="#a2d3c8" stroke="none" stroke-width="0"/>
<circle cx="431.1" cy="302" r="1.8" fill="#a2d3c8" stroke="none" stroke-width="0"/>
<circle cx="425.1" cy="302" r="1.8" fill="#a2d3c8" stroke="none" stroke-width="0"/>
<circle cx="429.6" cy="306" r="1.8" fill="#a2d3c8" stroke="none" stroke-width="0"/>
<circle cx="426.6" cy="306" r="1.8" fill="#a2d3c8" stroke="none" stroke-width="0"/>
<circle cx="426.6" cy="306" r="1.8" fill="#a2d3c8" stroke="none" stroke-width="0"/>
<circle cx="428.1" cy="312" r="1.8" fill="#a2d3c8" stroke="none" stroke-width="0"/>
<circle cx="429.6" cy="318" r="1.8" fill="#a2d3c8" stroke="none" stroke-width="0"/>
<circle cx="426.6" cy="318" r="1.8" fill="#a2d3c8" stroke="none" stroke-width="0"/>
<circle cx="428.1" cy="324" r="1.8" fill="#a2d3c8" stroke="none" stroke-width="0"/>
<circle cx="429.6" cy="328" r="1.8" fill="#a2d3c8" stroke="none" stroke-width="0"/>
<circle cx="426.6" cy="328" r="1.8" fill="#a2d3c8" stroke="none" stroke-width="0"/>
<circle cx="426.6" cy="328" r="1.8" fill="#a2d3c8" stroke="none" stroke-width="0"/>
<circle cx="428.1" cy="331" r="1.8" fill="#a2d3c8" stroke="none" stroke-width="0"/>
<circle cx="431.1" cy="331" r="1.8" fill="#a2d3c8" stroke="none" stroke-width="0"/>
<circle cx="425.1" cy="331" r="1.8" fill="#a2d3c8" stroke="none" stroke-width="0"/>
<circle cx="429.6" cy="334" r="1.8" fill="#a2d3c8" stroke="none" stroke-width="0"/>
<circle cx="426.6" cy="334" r="1.8" fill="#a2d3c8" stroke="none" stroke-width="0"/>
<circle cx="426.6" cy="334" r="1.8" fill="#a2d3c8" stroke="none" stroke-width="0"/>
<circle cx="428.1" cy="340" r="1.8" fill="#a2d3c8" stroke="none" stroke-width="0"/>
<circle cx="429.6" cy="346" r="1.8" fill="#a2d3c8" stroke="none" stroke-width="0"/>
<circle cx="426.6" cy="346" r="1.8" fill="#a2d3c8" stroke="none" stroke-width="0"/>
<circle cx="428.1" cy="352" r="1.8" fill="#a2d3c8" stroke="none" stroke-width="0"/>
<circle cx="429.6" cy="358" r="1.8" fill="#a2d3c8" stroke="none" stroke-width="0"/>
<circle cx="426.6" cy="358" r="1.8" fill="#a2d3c8" stroke="none" stroke-width="0"/>
<circle cx="426.6" cy="358" r="1.8" fill="#a2d3c8" stroke="none" stroke-width="0"/>
<circle cx="428.1" cy="364" r="1.8" fill="#a2d3c8" stroke="none" stroke-width="0"/>
<circle cx="431.1" cy="364" r="1.8" fill="#a2d3c8" stroke="none" stroke-width="0"/>
<circle cx="425.1" cy="364" r="1.8" fill="#a2d3c8" stroke="none" stroke-width="0"/>
<circle cx="429.6" cy="368" r="1.8" fill="#a2d3c8" stroke="none" stroke-width="0"/>
<circle cx="426.6" cy="368" r="1.8" fill="#a2d3c8" stroke="none" stroke-width="0"/>
<circle cx="426.6" cy="368" r="1.8" fill="#a2d3c8" stroke="none" stroke-width="0"/>
<circle cx="428.1" cy="372" r="1.8" fill="#a2d3c8" stroke="none" stroke-width="0"/>
<circle cx="431.1" cy="372" r="1.8" fill="#a2d3c8" stroke="none" stroke-width="0"/>
<circle cx="425.1" cy="372" r="1.8" fill="#a2d3c8" stroke="none" stroke-width="0"/>
<circle cx="429.6" cy="376" r="1.8" fill="#a2d3c8" stroke="none" stroke-width="0"/>
<circle cx="432.6" cy="376" r="1.8" fill="#a2d3c8" stroke="none" stroke-width="0"/>
<circle cx="426.6" cy="376" r="1.8" fill="#a2d3c8" stroke="none" stroke-width="0"/>
<circle cx="423.6" cy="376" r="1.8" fill="#a2d3c8" stroke="none" stroke-width="0"/>
<circle cx="426.6" cy="376" r="1.8" fill="#a2d3c8" stroke="none" stroke-width="0"/>
<circle cx="428.1" cy="380" r="1.8" fill="#a2d3c8" stroke="none" stroke-width="0"/>
<circle cx="431.1" cy="380" r="1.8" fill="#a2d3c8" stroke="none" stroke-width="0"/>
<circle cx="425.1" cy="380" r="1.8" fill="#a2d3c8" stroke="none" stroke-width="0"/>
<circle cx="434.1" cy="380" r="1.8" fill="#a2d3c8" stroke="none" stroke-width="0"/>
<circle cx="422.1" cy="380" r="1.8" fill="#a2d3c8" stroke="none" stroke-width="0"/>
<circle cx="429.6" cy="384" r="1.8" fill="#a2d3c8" stroke="none" stroke-width="0"/>
<circle cx="432.6" cy="384" r="1.8" fill="#a2d3c8" stroke="none" stroke-width="0"/>
<circle cx="426.6" cy="384" r="1.8" fill="#a2d3c8" stroke="none" stroke-width="0"/>
<circle cx="435.6" cy="384" r="1.8" fill="#a2d3c8" stroke="none" stroke-width="0"/>
<circle cx="423.6" cy="384" r="1.8" fill="#a2d3c8" stroke="none" stroke-width="0"/>
<circle cx="426.6" cy="384" r="1.8" fill="#a2d3c8" stroke="none" stroke-width="0"/>
<circle cx="428.1" cy="388" r="1.8" fill="#a2d3c8" stroke="none" stroke-width="0"/>
<circle cx="431.1" cy="388" r="1.8" fill="#a2d3c8" stroke="none" stroke-width="0"/>
<circle cx="425.1" cy="388" r="1.8" fill="#a2d3c8" stroke="none" stroke-width="0"/>
<circle cx="434.1" cy="388" r="1.8" fill="#a2d3c8" stroke="none" stroke-width="0"/>
<circle cx="422.1" cy="388" r="1.8" fill="#a2d3c8" stroke="none" stroke-width="0"/>
<circle cx="429.6" cy="392" r="1.8" fill="#a2d3c8" stroke="none" stroke-width="0"/>
<circle cx="426.6" cy="392" r="1.8" fill="#a2d3c8" stroke="none" stroke-width="0"/>
<circle cx="426.6" cy="392" r="1.8" fill="#a2d3c8" stroke="none" stroke-width="0"/>
<circle cx="428.1" cy="396" r="1.8" fill="#a2d3c8" stroke="none" stroke-width="0"/>
<circle cx="431.1" cy="396" r="1.8" fill="#a2d3c8" stroke="none" stroke-width="0"/>
<circle cx="425.1" cy="396" r="1.8" fill="#a2d3c8" stroke="none" stroke-width="0"/>
<circle cx="429.6" cy="400" r="1.8" fill="#a2d3c8" stroke="none" stroke-width="0"/>
<circle cx="426.6" cy="400" r="1.8" fill="#a2d3c8" stroke="none" stroke-width="0"/>
<circle cx="426.6" cy="400" r="1.8" fill="#a2d3c8" stroke="none" stroke-width="0"/>
<circle cx="428.1" cy="406" r="1.8" fill="#a2d3c8" stroke="none" stroke-width="0"/>
<circle cx="429.6" cy="412" r="1.8" fill="#a2d3c8" stroke="none" stroke-width="0"/>
<circle cx="426.6" cy="412" r="1.8" fill="#a2d3c8" stroke="none" stroke-width="0"/>
<circle cx="428.1" cy="418" r="1.8" fill="#a2d3c8" stroke="none" stroke-width="0"/>
<circle cx="428.1" cy="424" r="1.8" fill="#a2d3c8" stroke="none" stroke-width="0"/>
<circle cx="428.1" cy="430" r="1.8" fill="#a2d3c8" stroke="none" stroke-width="0"/>
<rect x="311.7" y="285.3" width="159.3" height="154" fill="none" stroke="#000" stroke-width="1.7"/>
<line x1="307" y1="438.6" x2="311.7" y2="438.6" stroke="#000" stroke-width="1.5"/>
<text x="301.6" y="442.6" font-size="14.4" textLength="8.01" lengthAdjust="spacingAndGlyphs" fill="#000" stroke="#000" stroke-width="0.5" transform="rotate(-90 301.6 442.6)">2</text>
<line x1="307" y1="412.2" x2="311.7" y2="412.2" stroke="#000" stroke-width="1.5"/>
<text x="301.6" y="416.2" font-size="14.4" textLength="8.01" lengthAdjust="spacingAndGlyphs" fill="#000" stroke="#000" stroke-width="0.5" transform="rotate(-90 301.6 416.2)">3</text>
<line x1="307" y1="385.8" x2="311.7" y2="385.8" stroke="#000" stroke-width="1.5"/>
<text x="301.6" y="389.8" font-size="14.4" textLength="8.01" lengthAdjust="spacingAndGlyphs" fill="#000" stroke="#000" stroke-width="0.5" transform="rotate(-90 301.6 389.8)">4</text>
<line x1="307" y1="359.4" x2="311.7" y2="359.4" stroke="#000" stroke-width="1.5"/>
<text x="301.6" y="363.4" font-size="14.4" textLength="8.01" lengthAdjust="spacingAndGlyphs" fill="#000" stroke="#000" stroke-width="0.5" transform="rotate(-90 301.6 363.4)">5</text>
<line x1="307" y1="333" x2="311.7" y2="333" stroke="#000" stroke-width="1.5"/>
<text x="301.6" y="337" font-size="14.4" textLength="8.01" lengthAdjust="spacingAndGlyphs" fill="#000" stroke="#000" stroke-width="0.5" transform="rotate(-90 301.6 337)">6</text>
<line x1="307" y1="306.6" x2="311.7" y2="306.6" stroke="#000" stroke-width="1.5"/>
<text x="301.6" y="310.6" font-size="14.4" textLength="8.01" lengthAdjust="spacingAndGlyphs" fill="#000" stroke="#000" stroke-width="0.5" transform="rotate(-90 301.6 310.6)">7</text>
<line x1="354.8" y1="439.3" x2="354.8" y2="444.6" stroke="#000" stroke-width="1.5"/>
<line x1="428.1" y1="439.3" x2="428.1" y2="444.6" stroke="#000" stroke-width="1.5"/>
<text x="327.65" y="457.3" font-size="14.4" textLength="57.54" lengthAdjust="spacingAndGlyphs" fill="#000" stroke="#000" stroke-width="0.5">FEMALE</text>
<text x="409.23" y="457" font-size="14.4" textLength="39.7" lengthAdjust="spacingAndGlyphs" fill="#000" stroke="#000" stroke-width="0.5">MALE</text>
<text x="286.5" y="435.21" font-size="14.4" textLength="147.33" lengthAdjust="spacingAndGlyphs" fill="#000" stroke="#000" stroke-width="0.5" transform="rotate(-90 286.5 435.21)">PCTP RNA level (log2)</text>
<text x="14.69" y="512.3" font-size="27.76" textLength="16.53" lengthAdjust="spacingAndGlyphs" font-weight="bold" fill="#000" stroke="#000" stroke-width="1">E</text>
<text x="50.11" y="519" font-size="14.4" textLength="177.11" lengthAdjust="spacingAndGlyphs" fill="#000" stroke="#000" stroke-width="0.5">Two−sided T−test P: 2e−21</text>
<line x1="101" y1="528.5" x2="101" y2="551" stroke="#000" stroke-width="1.2" stroke-dasharray="2.5,2.5"/>
<line x1="101" y1="585.8" x2="101" y2="618.3" stroke="#000" stroke-width="1.2" stroke-dasharray="2.5,2.5"/>
<line x1="86.5" y1="528.5" x2="116.3" y2="528.5" stroke="#000" stroke-width="1.8"/>
<line x1="86.5" y1="618.3" x2="116.3" y2="618.3" stroke="#000" stroke-width="1.8"/>
<rect x="72.1" y="551" width="58.7" height="34.8" fill="none" stroke="#000" stroke-width="1.7"/>
<line x1="72.1" y1="566.3" x2="130.8" y2="566.3" stroke="#000" stroke-width="3.8"/>
<line x1="174.8" y1="585.2" x2="174.8" y2="613.5" stroke="#000" stroke-width="1.2" stroke-dasharray="2.5,2.5"/>
<line x1="174.8" y1="635.3" x2="174.8" y2="657.3" stroke="#000" stroke-width="1.2" stroke-dasharray="2.5,2.5"/>
<line x1="159.8" y1="585.2" x2="190.6" y2="585.2" stroke="#000" stroke-width="1.8"/>
<line x1="159.8" y1="657.3" x2="190.6" y2="657.3" stroke="#000" stroke-width="1.8"/>
<rect x="145.4" y="613.5" width="59.4" height="21.8" fill="none" stroke="#000" stroke-width="1.7"/>
<line x1="145.4" y1="626.9" x2="204.8" y2="626.9" stroke="#000" stroke-width="3.8"/>
<circle cx="101" cy="537" r="1.9" fill="#98ca88" stroke="none" stroke-width="0"/>
<circle cx="102.65" cy="540" r="1.9" fill="#98ca88" stroke="none" stroke-width="0"/>
<circle cx="105.95" cy="540" r="1.9" fill="#98ca88" stroke="none" stroke-width="0"/>
<circle cx="99.35" cy="540" r="1.9" fill="#98ca88" stroke="none" stroke-width="0"/>
<circle cx="109.25" cy="540" r="1.9" fill="#98ca88" stroke="none" stroke-width="0"/>
<circle cx="96.05" cy="540" r="1.9" fill="#98ca88" stroke="none" stroke-width="0"/>
<circle cx="99.35" cy="540" r="1.9" fill="#98ca88" stroke="none" stroke-width="0"/>
<circle cx="101" cy="543" r="1.9" fill="#98ca88" stroke="none" stroke-width="0"/>
<circle cx="104.3" cy="543" r="1.9" fill="#98ca88" stroke="none" stroke-width="0"/>
<circle cx="97.7" cy="543" r="1.9" fill="#98ca88" stroke="none" stroke-width="0"/>
<circle cx="102.65" cy="547" r="1.9" fill="#98ca88" stroke="none" stroke-width="0"/>
<circle cx="99.35" cy="547" r="1.9" fill="#98ca88" stroke="none" stroke-width="0"/>
<circle cx="99.35" cy="547" r="1.9" fill="#98ca88" stroke="none" stroke-width="0"/>
<circle cx="101" cy="550" r="1.9" fill="#98ca88" stroke="none" stroke-width="0"/>
<circle cx="104.3" cy="550" r="1.9" fill="#98ca88" stroke="none" stroke-width="0"/>
<circle cx="97.7" cy="550" r="1.9" fill="#98ca88" stroke="none" stroke-width="0"/>
<circle cx="107.6" cy="550" r="1.9" fill="#98ca88" stroke="none" stroke-width="0"/>
<circle cx="94.4" cy="550" r="1.9" fill="#98ca88" stroke="none" stroke-width="0"/>
<circle cx="102.65" cy="553" r="1.9" fill="#98ca88" stroke="none" stroke-width="0"/>
<circle cx="105.95" cy="553" r="1.9" fill="#98ca88" stroke="none" stroke-width="0"/>
<circle cx="99.35" cy="553" r="1.9" fill="#98ca88" stroke="none" stroke-width="0"/>
<circle cx="109.25" cy="553" r="1.9" fill="#98ca88" stroke="none" stroke-width="0"/>
<circle cx="96.05" cy="553" r="1.9" fill="#98ca88" stroke="none" stroke-width="0"/>
<circle cx="99.35" cy="553" r="1.9" fill="#98ca88" stroke="none" stroke-width="0"/>
<circle cx="101" cy="556" r="1.9" fill="#98ca88" stroke="none" stroke-width="0"/>
<circle cx="104.3" cy="556" r="1.9" fill="#98ca88" stroke="none" stroke-width="0"/>
<circle cx="97.7" cy="556" r="1.9" fill="#98ca88" stroke="none" stroke-width="0"/>
<circle cx="102.65" cy="560" r="1.9" fill="#98ca88" stroke="none" stroke-width="0"/>
<circle cx="99.35" cy="560" r="1.9" fill="#98ca88" stroke="none" stroke-width="0"/>
<circle cx="99.35" cy="560" r="1.9" fill="#98ca88" stroke="none" stroke-width="0"/>
<circle cx="101" cy="563" r="1.9" fill="#98ca88" stroke="none" stroke-width="0"/>
<circle cx="104.3" cy="563" r="1.9" fill="#98ca88" stroke="none" stroke-width="0"/>
<circle cx="97.7" cy="563" r="1.9" fill="#98ca88" stroke="none" stroke-width="0"/>
<circle cx="102.65" cy="566" r="1.9" fill="#98ca88" stroke="none" stroke-width="0"/>
<circle cx="105.95" cy="566" r="1.9" fill="#98ca88" stroke="none" stroke-width="0"/>
<circle cx="99.35" cy="566" r="1.9" fill="#98ca88" stroke="none" stroke-width="0"/>
<circle cx="99.35" cy="566" r="1.9" fill="#98ca88" stroke="none" stroke-width="0"/>
<circle cx="101" cy="569" r="1.9" fill="#98ca88" stroke="none" stroke-width="0"/>
<circle cx="104.3" cy="569" r="1.9" fill="#98ca88" stroke="none" stroke-width="0"/>
<circle cx="97.7" cy="569" r="1.9" fill="#98ca88" stroke="none" stroke-width="0"/>
<circle cx="102.65" cy="572" r="1.9" fill="#98ca88" stroke="none" stroke-width="0"/>
<circle cx="99.35" cy="572" r="1.9" fill="#98ca88" stroke="none" stroke-width="0"/>
<circle cx="99.35" cy="572" r="1.9" fill="#98ca88" stroke="none" stroke-width="0"/>
<circle cx="101" cy="576" r="1.9" fill="#98ca88" stroke="none" stroke-width="0"/>
<circle cx="102.65" cy="580" r="1.9" fill="#98ca88" stroke="none" stroke-width="0"/>
<circle cx="99.35" cy="580" r="1.9" fill="#98ca88" stroke="none" stroke-width="0"/>
<circle cx="101" cy="584" r="1.9" fill="#98ca88" stroke="none" stroke-width="0"/>
<circle cx="102.65" cy="588" r="1.9" fill="#98ca88" stroke="none" stroke-width="0"/>
<circle cx="99.35" cy="588" r="1.9" fill="#98ca88" stroke="none" stroke-width="0"/>
<circle cx="101" cy="592" r="1.9" fill="#98ca88" stroke="none" stroke-width="0"/>
<circle cx="102.65" cy="596" r="1.9" fill="#98ca88" stroke="none" stroke-width="0"/>
<circle cx="99.35" cy="596" r="1.9" fill="#98ca88" stroke="none" stroke-width="0"/>
<circle cx="101" cy="600" r="1.9" fill="#98ca88" stroke="none" stroke-width="0"/>
<circle cx="102.65" cy="604" r="1.9" fill="#98ca88" stroke="none" stroke-width="0"/>
<circle cx="99.35" cy="604" r="1.9" fill="#98ca88" stroke="none" stroke-width="0"/>
<circle cx="101" cy="608" r="1.9" fill="#98ca88" stroke="none" stroke-width="0"/>
<circle cx="102.65" cy="612" r="1.9" fill="#98ca88" stroke="none" stroke-width="0"/>
<circle cx="99.35" cy="612" r="1.9" fill="#98ca88" stroke="none" stroke-width="0"/>
<circle cx="101" cy="615.5" r="1.9" fill="#98ca88" stroke="none" stroke-width="0"/>
<circle cx="104.3" cy="615.5" r="1.9" fill="#98ca88" stroke="none" stroke-width="0"/>
<circle cx="97.7" cy="615.5" r="1.9" fill="#98ca88" stroke="none" stroke-width="0"/>
<circle cx="174.8" cy="590" r="2" fill="#98ca88" stroke="none" stroke-width="0"/>
<circle cx="176.4" cy="593" r="2" fill="#98ca88" stroke="none" stroke-width="0"/>
<circle cx="173.2" cy="593" r="2" fill="#98ca88" stroke="none" stroke-width="0"/>
<circle cx="173.2" cy="593" r="2" fill="#98ca88" stroke="none" stroke-width="0"/>
<circle cx="174.8" cy="596" r="2" fill="#98ca88" stroke="none" stroke-width="0"/>
<circle cx="176.4" cy="599" r="2" fill="#98ca88" stroke="none" stroke-width="0"/>
<circle cx="173.2" cy="599" r="2" fill="#98ca88" stroke="none" stroke-width="0"/>
<circle cx="173.2" cy="599" r="2" fill="#98ca88" stroke="none" stroke-width="0"/>
<circle cx="174.8" cy="602" r="2" fill="#98ca88" stroke="none" stroke-width="0"/>
<circle cx="176.4" cy="605" r="2" fill="#98ca88" stroke="none" stroke-width="0"/>
<circle cx="173.2" cy="605" r="2" fill="#98ca88" stroke="none" stroke-width="0"/>
<circle cx="173.2" cy="605" r="2" fill="#98ca88" stroke="none" stroke-width="0"/>
<circle cx="174.8" cy="608" r="2" fill="#98ca88" stroke="none" stroke-width="0"/>
<circle cx="178" cy="608" r="2" fill="#98ca88" stroke="none" stroke-width="0"/>
<circle cx="171.6" cy="608" r="2" fill="#98ca88" stroke="none" stroke-width="0"/>
<circle cx="176.4" cy="611" r="2" fill="#98ca88" stroke="none" stroke-width="0"/>
<circle cx="173.2" cy="611" r="2" fill="#98ca88" stroke="none" stroke-width="0"/>
<circle cx="173.2" cy="611" r="2" fill="#98ca88" stroke="none" stroke-width="0"/>
<circle cx="174.8" cy="614" r="2" fill="#98ca88" stroke="none" stroke-width="0"/>
<circle cx="178" cy="614" r="2" fill="#98ca88" stroke="none" stroke-width="0"/>
<circle cx="171.6" cy="614" r="2" fill="#98ca88" stroke="none" stroke-width="0"/>
<circle cx="176.4" cy="617" r="2" fill="#98ca88" stroke="none" stroke-width="0"/>
<circle cx="179.6" cy="617" r="2" fill="#98ca88" stroke="none" stroke-width="0"/>
<circle cx="173.2" cy="617" r="2" fill="#98ca88" stroke="none" stroke-width="0"/>
<circle cx="173.2" cy="617" r="2" fill="#98ca88" stroke="none" stroke-width="0"/>
<circle cx="174.8" cy="620" r="2" fill="#98ca88" stroke="none" stroke-width="0"/>
<circle cx="178" cy="620" r="2" fill="#98ca88" stroke="none" stroke-width="0"/>
<circle cx="171.6" cy="620" r="2" fill="#98ca88" stroke="none" stroke-width="0"/>
<circle cx="181.2" cy="620" r="2" fill="#98ca88" stroke="none" stroke-width="0"/>
<circle cx="168.4" cy="620" r="2" fill="#98ca88" stroke="none" stroke-width="0"/>
<circle cx="176.4" cy="622.5" r="2" fill="#98ca88" stroke="none" stroke-width="0"/>
<circle cx="179.6" cy="622.5" r="2" fill="#98ca88" stroke="none" stroke-width="0"/>
<circle cx="173.2" cy="622.5" r="2" fill="#98ca88" stroke="none" stroke-width="0"/>
<circle cx="182.8" cy="622.5" r="2" fill="#98ca88" stroke="none" stroke-width="0"/>
<circle cx="170" cy="622.5" r="2" fill="#98ca88" stroke="none" stroke-width="0"/>
<circle cx="173.2" cy="622.5" r="2" fill="#98ca88" stroke="none" stroke-width="0"/>
<circle cx="174.8" cy="625" r="2" fill="#98ca88" stroke="none" stroke-width="0"/>
<circle cx="178" cy="625" r="2" fill="#98ca88" stroke="none" stroke-width="0"/>
<circle cx="171.6" cy="625" r="2" fill="#98ca88" stroke="none" stroke-width="0"/>
<circle cx="181.2" cy="625" r="2" fill="#98ca88" stroke="none" stroke-width="0"/>
<circle cx="168.4" cy="625" r="2" fill="#98ca88" stroke="none" stroke-width="0"/>
<circle cx="184.4" cy="625" r="2" fill="#98ca88" stroke="none" stroke-width="0"/>
<circle cx="165.2" cy="625" r="2" fill="#98ca88" stroke="none" stroke-width="0"/>
<circle cx="187.6" cy="625" r="2" fill="#98ca88" stroke="none" stroke-width="0"/>
<circle cx="162" cy="625" r="2" fill="#98ca88" stroke="none" stroke-width="0"/>
<circle cx="176.4" cy="627.5" r="2" fill="#98ca88" stroke="none" stroke-width="0"/>
<circle cx="179.6" cy="627.5" r="2" fill="#98ca88" stroke="none" stroke-width="0"/>
<circle cx="173.2" cy="627.5" r="2" fill="#98ca88" stroke="none" stroke-width="0"/>
<circle cx="182.8" cy="627.5" r="2" fill="#98ca88" stroke="none" stroke-width="0"/>
<circle cx="170" cy="627.5" r="2" fill="#98ca88" stroke="none" stroke-width="0"/>
<circle cx="186" cy="627.5" r="2" fill="#98ca88" stroke="none" stroke-width="0"/>
<circle cx="166.8" cy="627.5" r="2" fill="#98ca88" stroke="none" stroke-width="0"/>
<circle cx="163.6" cy="627.5" r="2" fill="#98ca88" stroke="none" stroke-width="0"/>
<circle cx="173.2" cy="627.5" r="2" fill="#98ca88" stroke="none" stroke-width="0"/>
<circle cx="174.8" cy="630" r="2" fill="#98ca88" stroke="none" stroke-width="0"/>
<circle cx="178" cy="630" r="2" fill="#98ca88" stroke="none" stroke-width="0"/>
<circle cx="171.6" cy="630" r="2" fill="#98ca88" stroke="none" stroke-width="0"/>
<circle cx="181.2" cy="630" r="2" fill="#98ca88" stroke="none" stroke-width="0"/>
<circle cx="168.4" cy="630" r="2" fill="#98ca88" stroke="none" stroke-width="0"/>
<circle cx="184.4" cy="630" r="2" fill="#98ca88" stroke="none" stroke-width="0"/>
<circle cx="165.2" cy="630" r="2" fill="#98ca88" stroke="none" stroke-width="0"/>
<circle cx="176.4" cy="632.5" r="2" fill="#98ca88" stroke="none" stroke-width="0"/>
<circle cx="179.6" cy="632.5" r="2" fill="#98ca88" stroke="none" stroke-width="0"/>
<circle cx="173.2" cy="632.5" r="2" fill="#98ca88" stroke="none" stroke-width="0"/>
<circle cx="182.8" cy="632.5" r="2" fill="#98ca88" stroke="none" stroke-width="0"/>
<circle cx="170" cy="632.5" r="2" fill="#98ca88" stroke="none" stroke-width="0"/>
<circle cx="173.2" cy="632.5" r="2" fill="#98ca88" stroke="none" stroke-width="0"/>
<circle cx="174.8" cy="635" r="2" fill="#98ca88" stroke="none" stroke-width="0"/>
<circle cx="178" cy="635" r="2" fill="#98ca88" stroke="none" stroke-width="0"/>
<circle cx="171.6" cy="635" r="2" fill="#98ca88" stroke="none" stroke-width="0"/>
<circle cx="181.2" cy="635" r="2" fill="#98ca88" stroke="none" stroke-width="0"/>
<circle cx="168.4" cy="635" r="2" fill="#98ca88" stroke="none" stroke-width="0"/>
<circle cx="176.4" cy="638" r="2" fill="#98ca88" stroke="none" stroke-width="0"/>
<circle cx="179.6" cy="638" r="2" fill="#98ca88" stroke="none" stroke-width="0"/>
<circle cx="173.2" cy="638" r="2" fill="#98ca88" stroke="none" stroke-width="0"/>
<circle cx="173.2" cy="638" r="2" fill="#98ca88" stroke="none" stroke-width="0"/>
<circle cx="174.8" cy="641" r="2" fill="#98ca88" stroke="none" stroke-width="0"/>
<circle cx="178" cy="641" r="2" fill="#98ca88" stroke="none" stroke-width="0"/>
<circle cx="171.6" cy="641" r="2" fill="#98ca88" stroke="none" stroke-width="0"/>
<circle cx="176.4" cy="644" r="2" fill="#98ca88" stroke="none" stroke-width="0"/>
<circle cx="179.6" cy="644" r="2" fill="#98ca88" stroke="none" stroke-width="0"/>
<circle cx="173.2" cy="644" r="2" fill="#98ca88" stroke="none" stroke-width="0"/>
<circle cx="173.2" cy="644" r="2" fill="#98ca88" stroke="none" stroke-width="0"/>
<circle cx="174.8" cy="647" r="2" fill="#98ca88" stroke="none" stroke-width="0"/>
<circle cx="178" cy="647" r="2" fill="#98ca88" stroke="none" stroke-width="0"/>
<circle cx="171.6" cy="647" r="2" fill="#98ca88" stroke="none" stroke-width="0"/>
<circle cx="176.4" cy="650" r="2" fill="#98ca88" stroke="none" stroke-width="0"/>
<circle cx="173.2" cy="650" r="2" fill="#98ca88" stroke="none" stroke-width="0"/>
<circle cx="173.2" cy="650" r="2" fill="#98ca88" stroke="none" stroke-width="0"/>
<circle cx="174.8" cy="653" r="2" fill="#98ca88" stroke="none" stroke-width="0"/>
<circle cx="176.4" cy="656" r="2" fill="#98ca88" stroke="none" stroke-width="0"/>
<circle cx="173.2" cy="656" r="2" fill="#98ca88" stroke="none" stroke-width="0"/>
<circle cx="101" cy="651" r="2" fill="#98ca88" stroke="#222" stroke-width="1.1"/>
<circle cx="101" cy="655.8" r="2" fill="#98ca88" stroke="#222" stroke-width="1.1"/>
<circle cx="174.6" cy="537.1" r="2" fill="#98ca88" stroke="#222" stroke-width="1.1"/>
<circle cx="174.6" cy="569.8" r="2" fill="#98ca88" stroke="#222" stroke-width="1.1"/>
<circle cx="174.6" cy="573.7" r="2" fill="#98ca88" stroke="#222" stroke-width="1.1"/>
<circle cx="174.8" cy="671.5" r="2" fill="#98ca88" stroke="#222" stroke-width="1.1"/>
<rect x="58.8" y="522.8" width="159.5" height="154.5" fill="none" stroke="#000" stroke-width="1.7"/>
<line x1="53.6" y1="676.6" x2="58.8" y2="676.6" stroke="#000" stroke-width="1.5"/>
<text x="50.5" y="680.6" font-size="14.4" textLength="8.01" lengthAdjust="spacingAndGlyphs" fill="#000" stroke="#000" stroke-width="0.5" transform="rotate(-90 50.5 680.6)">2</text>
<line x1="53.6" y1="650.12" x2="58.8" y2="650.12" stroke="#000" stroke-width="1.5"/>
<text x="50.5" y="654.12" font-size="14.4" textLength="8.01" lengthAdjust="spacingAndGlyphs" fill="#000" stroke="#000" stroke-width="0.5" transform="rotate(-90 50.5 654.12)">3</text>
<line x1="53.6" y1="623.64" x2="58.8" y2="623.64" stroke="#000" stroke-width="1.5"/>
<text x="50.5" y="627.64" font-size="14.4" textLength="8.01" lengthAdjust="spacingAndGlyphs" fill="#000" stroke="#000" stroke-width="0.5" transform="rotate(-90 50.5 627.64)">4</text>
<line x1="53.6" y1="597.16" x2="58.8" y2="597.16" stroke="#000" stroke-width="1.5"/>
<text x="50.5" y="601.16" font-size="14.4" textLength="8.01" lengthAdjust="spacingAndGlyphs" fill="#000" stroke="#000" stroke-width="0.5" transform="rotate(-90 50.5 601.16)">5</text>
<line x1="53.6" y1="570.68" x2="58.8" y2="570.68" stroke="#000" stroke-width="1.5"/>
<text x="50.5" y="574.68" font-size="14.4" textLength="8.01" lengthAdjust="spacingAndGlyphs" fill="#000" stroke="#000" stroke-width="0.5" transform="rotate(-90 50.5 574.68)">6</text>
<line x1="53.6" y1="544.2" x2="58.8" y2="544.2" stroke="#000" stroke-width="1.5"/>
<text x="50.5" y="548.2" font-size="14.4" textLength="8.01" lengthAdjust="spacingAndGlyphs" fill="#000" stroke="#000" stroke-width="0.5" transform="rotate(-90 50.5 548.2)">7</text>
<line x1="101" y1="677.3" x2="101" y2="681" stroke="#000" stroke-width="1.5"/>
<line x1="174.8" y1="677.3" x2="174.8" y2="681" stroke="#000" stroke-width="1.5"/>
<text x="79.26" y="696.4" font-size="14.4" textLength="46.88" lengthAdjust="spacingAndGlyphs" fill="#000" stroke="#000" stroke-width="0.5">BLACK</text>
<text x="153.96" y="696.4" font-size="14.4" textLength="46.24" lengthAdjust="spacingAndGlyphs" fill="#000" stroke="#000" stroke-width="0.5">WHITE</text>
<text x="35" y="673.71" font-size="14.4" textLength="147.23" lengthAdjust="spacingAndGlyphs" fill="#000" stroke="#000" stroke-width="0.5" transform="rotate(-90 35 673.71)">PCTP RNA level (log2)</text>
<text x="244.59" y="496.9" font-size="28.34" textLength="16.05" lengthAdjust="spacingAndGlyphs" font-weight="bold" fill="#000" stroke="#000" stroke-width="1">F</text>
<text x="325.03" y="491.5" font-size="12.79" textLength="120.15" lengthAdjust="spacingAndGlyphs" font-weight="bold" fill="#000" stroke="#000" stroke-width="0.5">Arachidonic Acid</text>
<text x="284.84" y="505.2" font-size="13.66" textLength="140.98" lengthAdjust="spacingAndGlyphs" fill="#000" stroke="#000" stroke-width="0.4">Pearson Coef: −0.074</text>
<text x="438.12" y="505.2" font-size="13.66" textLength="46.83" lengthAdjust="spacingAndGlyphs" fill="#000" stroke="#000" stroke-width="0.4">P: 0.36</text>
<polyline points="291.7,560.11 294.03,560.37 296.35,560.63 298.68,560.88 301.01,561.14 303.34,561.4 305.66,561.66 307.99,561.91 310.32,562.16 312.65,562.42 314.97,562.67 317.3,562.92 319.63,563.17 321.96,563.41 324.28,563.66 326.61,563.9 328.94,564.14 331.27,564.38 333.59,564.62 335.92,564.85 338.25,565.08 340.58,565.31 342.9,565.54 345.23,565.76 347.56,565.97 349.89,566.19 352.21,566.4 354.54,566.6 356.87,566.79 359.2,566.98 361.52,567.17 363.85,567.35 366.18,567.51 368.51,567.68 370.83,567.83 373.16,567.97 375.49,568.11 377.82,568.23 380.14,568.34 382.47,568.45 384.8,568.54 387.13,568.63 389.45,568.7 391.78,568.77 394.11,568.82 396.44,568.87 398.76,568.91 401.09,568.94 403.42,568.96 405.75,568.97 408.07,568.98 410.4,568.99 412.73,568.99 415.06,568.98 417.38,568.97 419.71,568.95 422.04,568.93 424.37,568.91 426.69,568.88 429.02,568.85 431.35,568.82 433.68,568.78 436,568.74 438.33,568.7 440.66,568.66 442.99,568.62 445.31,568.57 447.64,568.53 449.97,568.48 452.3,568.43 454.62,568.38 456.95,568.33 459.28,568.28 461.61,568.22 463.93,568.17 466.26,568.11 468.59,568.05 470.92,568 473.25,567.94 475.57,567.88 477.9,567.82" fill="none" stroke="#952234" stroke-width="1.9" stroke-dasharray="4.5,4.5" stroke-linejoin="round"/>
<polyline points="291.7,574.89 294.03,574.84 296.35,574.78 298.68,574.72 301.01,574.67 303.34,574.61 305.66,574.56 307.99,574.51 310.32,574.46 312.65,574.41 314.97,574.36 317.3,574.31 319.63,574.26 321.96,574.22 324.28,574.18 326.61,574.14 328.94,574.1 331.27,574.06 333.59,574.03 335.92,573.99 338.25,573.97 340.58,573.94 342.9,573.92 345.23,573.9 347.56,573.89 349.89,573.88 352.21,573.87 354.54,573.87 356.87,573.88 359.2,573.89 361.52,573.91 363.85,573.93 366.18,573.97 368.51,574.01 370.83,574.06 373.16,574.12 375.49,574.18 377.82,574.26 380.14,574.35 382.47,574.45 384.8,574.56 387.13,574.68 389.45,574.8 391.78,574.94 394.11,575.09 396.44,575.24 398.76,575.41 401.09,575.58 403.42,575.76 405.75,575.95 408.07,576.14 410.4,576.34 412.73,576.54 415.06,576.75 417.38,576.97 419.71,577.19 422.04,577.41 424.37,577.64 426.69,577.87 429.02,578.1 431.35,578.33 433.68,578.57 436,578.81 438.33,579.05 440.66,579.3 442.99,579.54 445.31,579.79 447.64,580.04 449.97,580.29 452.3,580.54 454.62,580.8 456.95,581.05 459.28,581.3 461.61,581.56 463.93,581.82 466.26,582.08 468.59,582.34 470.92,582.6 473.25,582.86 475.57,583.12 477.9,583.38" fill="none" stroke="#952234" stroke-width="1.9" stroke-dasharray="4.5,4.5" stroke-linejoin="round"/>
<line x1="291.7" y1="567.5" x2="477.9" y2="575.6" stroke="#ad1e2e" stroke-width="1.9"/>
<rect x="298.31" y="660.2" width="1.2" height="6.2" fill="#000"/>
<rect x="314.84" y="660.2" width="1.2" height="6.2" fill="#000"/>
<rect x="315.95" y="660.2" width="1.2" height="6.2" fill="#000"/>
<rect x="317.07" y="660.2" width="1.2" height="6.2" fill="#000"/>
<rect x="318.66" y="660.2" width="1.2" height="6.2" fill="#000"/>
<rect x="321.41" y="660.2" width="1.2" height="6.2" fill="#000"/>
<rect x="322.79" y="660.2" width="1.2" height="6.2" fill="#000"/>
<rect x="324.17" y="660.2" width="1.2" height="6.2" fill="#000"/>
<rect x="325.55" y="660.2" width="1.2" height="6.2" fill="#000"/>
<rect x="326.93" y="660.2" width="1.2" height="6.2" fill="#000"/>
<rect x="329.47" y="660.2" width="1.2" height="6.2" fill="#000"/>
<rect x="330.42" y="660.2" width="1.2" height="6.2" fill="#000"/>
<rect x="334.59" y="660.2" width="1.2" height="6.2" fill="#000"/>
<rect x="337.21" y="660.2" width="1.2" height="6.2" fill="#000"/>
<rect x="338.52" y="660.2" width="1.2" height="6.2" fill="#000"/>
<rect x="341.13" y="660.2" width="1.2" height="6.2" fill="#000"/>
<rect x="342.44" y="660.2" width="1.2" height="6.2" fill="#000"/>
<rect x="343.74" y="660.2" width="1.2" height="6.2" fill="#000"/>
<rect x="345.05" y="660.2" width="1.2" height="6.2" fill="#000"/>
<rect x="347.6" y="660.2" width="1.2" height="6.2" fill="#000"/>
<rect x="348.93" y="660.2" width="1.2" height="6.2" fill="#000"/>
<rect x="351.59" y="660.2" width="1.2" height="6.2" fill="#000"/>
<rect x="352.92" y="660.2" width="1.2" height="6.2" fill="#000"/>
<rect x="354.25" y="660.2" width="1.2" height="6.2" fill="#000"/>
<rect x="355.57" y="660.2" width="1.2" height="6.2" fill="#000"/>
<rect x="356.9" y="660.2" width="1.2" height="6.2" fill="#000"/>
<rect x="358.23" y="660.2" width="1.2" height="6.2" fill="#000"/>
<rect x="362.22" y="660.2" width="1.2" height="6.2" fill="#000"/>
<rect x="364.77" y="660.2" width="1.2" height="6.2" fill="#000"/>
<rect x="366.36" y="660.2" width="1.2" height="6.2" fill="#000"/>
<rect x="367.95" y="660.2" width="1.2" height="6.2" fill="#000"/>
<rect x="369.54" y="660.2" width="1.2" height="6.2" fill="#000"/>
<rect x="371.13" y="660.2" width="1.2" height="6.2" fill="#000"/>
<rect x="373.04" y="660.2" width="1.2" height="6.2" fill="#000"/>
<rect x="374.63" y="660.2" width="1.2" height="6.2" fill="#000"/>
<rect x="376.53" y="660.2" width="1.2" height="6.2" fill="#000"/>
<rect x="377.96" y="660.2" width="1.2" height="6.2" fill="#000"/>
<rect x="379.4" y="660.2" width="1.2" height="6.2" fill="#000"/>
<rect x="381.94" y="660.2" width="1.2" height="6.2" fill="#000"/>
<rect x="383.24" y="660.2" width="1.2" height="6.2" fill="#000"/>
<rect x="384.55" y="660.2" width="1.2" height="6.2" fill="#000"/>
<rect x="385.85" y="660.2" width="1.2" height="6.2" fill="#000"/>
<rect x="387.16" y="660.2" width="1.2" height="6.2" fill="#000"/>
<rect x="388.46" y="660.2" width="1.2" height="6.2" fill="#000"/>
<rect x="389.76" y="660.2" width="1.2" height="6.2" fill="#000"/>
<rect x="391.07" y="660.2" width="1.2" height="6.2" fill="#000"/>
<rect x="392.37" y="660.2" width="1.2" height="6.2" fill="#000"/>
<rect x="393.67" y="660.2" width="1.2" height="6.2" fill="#000"/>
<rect x="394.98" y="660.2" width="1.2" height="6.2" fill="#000"/>
<rect x="400.38" y="660.2" width="1.2" height="6.2" fill="#000"/>
<rect x="401.81" y="660.2" width="1.2" height="6.2" fill="#000"/>
<rect x="403.25" y="660.2" width="1.2" height="6.2" fill="#000"/>
<rect x="404.84" y="660.2" width="1.2" height="6.2" fill="#000"/>
<rect x="407.22" y="660.2" width="1.2" height="6.2" fill="#000"/>
<rect x="408.41" y="660.2" width="1.2" height="6.2" fill="#000"/>
<rect x="411.51" y="660.2" width="1.2" height="6.2" fill="#000"/>
<rect x="413.42" y="660.2" width="1.2" height="6.2" fill="#000"/>
<rect x="415.01" y="660.2" width="1.2" height="6.2" fill="#000"/>
<rect x="417.66" y="660.2" width="1.2" height="6.2" fill="#000"/>
<rect x="418.99" y="660.2" width="1.2" height="6.2" fill="#000"/>
<rect x="420.31" y="660.2" width="1.2" height="6.2" fill="#000"/>
<rect x="421.64" y="660.2" width="1.2" height="6.2" fill="#000"/>
<rect x="422.96" y="660.2" width="1.2" height="6.2" fill="#000"/>
<rect x="424.29" y="660.2" width="1.2" height="6.2" fill="#000"/>
<rect x="425.61" y="660.2" width="1.2" height="6.2" fill="#000"/>
<rect x="426.94" y="660.2" width="1.2" height="6.2" fill="#000"/>
<rect x="428.26" y="660.2" width="1.2" height="6.2" fill="#000"/>
<rect x="429.59" y="660.2" width="1.2" height="6.2" fill="#000"/>
<rect x="430.91" y="660.2" width="1.2" height="6.2" fill="#000"/>
<rect x="434.41" y="660.2" width="1.2" height="6.2" fill="#000"/>
<rect x="435.6" y="660.2" width="1.2" height="6.2" fill="#000"/>
<rect x="436.79" y="660.2" width="1.2" height="6.2" fill="#000"/>
<rect x="437.99" y="660.2" width="1.2" height="6.2" fill="#000"/>
<rect x="439.18" y="660.2" width="1.2" height="6.2" fill="#000"/>
<rect x="440.77" y="660.2" width="1.2" height="6.2" fill="#000"/>
<rect x="441.96" y="660.2" width="1.2" height="6.2" fill="#000"/>
<rect x="443.15" y="660.2" width="1.2" height="6.2" fill="#000"/>
<rect x="444.35" y="660.2" width="1.2" height="6.2" fill="#000"/>
<rect x="449.99" y="660.2" width="1.2" height="6.2" fill="#000"/>
<rect x="451.18" y="660.2" width="1.2" height="6.2" fill="#000"/>
<rect x="452.38" y="660.2" width="1.2" height="6.2" fill="#000"/>
<rect x="453.57" y="660.2" width="1.2" height="6.2" fill="#000"/>
<rect x="454.76" y="660.2" width="1.2" height="6.2" fill="#000"/>
<rect x="455.72" y="660.2" width="1.2" height="6.2" fill="#000"/>
<rect x="457.31" y="660.2" width="1.2" height="6.2" fill="#000"/>
<rect x="469.71" y="660.2" width="1.2" height="6.2" fill="#000"/>
<rect x="291.7" y="509.8" width="186.2" height="158.5" fill="none" stroke="#000" stroke-width="1.7"/>
<line x1="287.9" y1="663.1" x2="291.7" y2="663.1" stroke="#000" stroke-width="1.5"/>
<text x="281.9" y="667.1" font-size="14.4" textLength="8.01" lengthAdjust="spacingAndGlyphs" fill="#000" stroke="#000" stroke-width="0.5" transform="rotate(-90 281.9 667.1)">0</text>
<line x1="287.9" y1="633.56" x2="291.7" y2="633.56" stroke="#000" stroke-width="1.5"/>
<text x="281.9" y="641.57" font-size="14.4" textLength="16.02" lengthAdjust="spacingAndGlyphs" fill="#000" stroke="#000" stroke-width="0.5" transform="rotate(-90 281.9 641.57)">20</text>
<line x1="287.9" y1="604.02" x2="291.7" y2="604.02" stroke="#000" stroke-width="1.5"/>
<text x="281.9" y="612.03" font-size="14.4" textLength="16.02" lengthAdjust="spacingAndGlyphs" fill="#000" stroke="#000" stroke-width="0.5" transform="rotate(-90 281.9 612.03)">40</text>
<line x1="287.9" y1="574.48" x2="291.7" y2="574.48" stroke="#000" stroke-width="1.5"/>
<text x="281.9" y="582.49" font-size="14.4" textLength="16.02" lengthAdjust="spacingAndGlyphs" fill="#000" stroke="#000" stroke-width="0.5" transform="rotate(-90 281.9 582.49)">60</text>
<line x1="287.9" y1="544.94" x2="291.7" y2="544.94" stroke="#000" stroke-width="1.5"/>
<text x="281.9" y="552.95" font-size="14.4" textLength="16.02" lengthAdjust="spacingAndGlyphs" fill="#000" stroke="#000" stroke-width="0.5" transform="rotate(-90 281.9 552.95)">80</text>
<line x1="287.9" y1="515.4" x2="291.7" y2="515.4" stroke="#000" stroke-width="1.5"/>
<text x="281.9" y="527.41" font-size="14.4" textLength="24.03" lengthAdjust="spacingAndGlyphs" fill="#000" stroke="#000" stroke-width="0.5" transform="rotate(-90 281.9 527.41)">100</text>
<line x1="293.5" y1="668.3" x2="293.5" y2="672.1" stroke="#000" stroke-width="1.5"/>
<text x="289.5" y="684.3" font-size="14.4" textLength="8.01" lengthAdjust="spacingAndGlyphs" fill="#000" stroke="#000" stroke-width="0.5">2</text>
<line x1="325.3" y1="668.3" x2="325.3" y2="672.1" stroke="#000" stroke-width="1.5"/>
<text x="321.3" y="684.3" font-size="14.4" textLength="8.01" lengthAdjust="spacingAndGlyphs" fill="#000" stroke="#000" stroke-width="0.5">3</text>
<line x1="357.1" y1="668.3" x2="357.1" y2="672.1" stroke="#000" stroke-width="1.5"/>
<text x="353.1" y="684.3" font-size="14.4" textLength="8.01" lengthAdjust="spacingAndGlyphs" fill="#000" stroke="#000" stroke-width="0.5">4</text>
<line x1="388.9" y1="668.3" x2="388.9" y2="672.1" stroke="#000" stroke-width="1.5"/>
<text x="384.9" y="684.3" font-size="14.4" textLength="8.01" lengthAdjust="spacingAndGlyphs" fill="#000" stroke="#000" stroke-width="0.5">5</text>
<line x1="420.7" y1="668.3" x2="420.7" y2="672.1" stroke="#000" stroke-width="1.5"/>
<text x="416.7" y="684.3" font-size="14.4" textLength="8.01" lengthAdjust="spacingAndGlyphs" fill="#000" stroke="#000" stroke-width="0.5">6</text>
<line x1="452.5" y1="668.3" x2="452.5" y2="672.1" stroke="#000" stroke-width="1.5"/>
<text x="448.5" y="684.3" font-size="14.4" textLength="8.01" lengthAdjust="spacingAndGlyphs" fill="#000" stroke="#000" stroke-width="0.5">7</text>
<text x="312.03" y="700.3" font-size="14.4" textLength="148.75" lengthAdjust="spacingAndGlyphs" fill="#000" stroke="#000" stroke-width="0.5">PCTP RNA level (log2)</text>
<text x="260.6" y="665.02" font-size="14.4" textLength="158.94" lengthAdjust="spacingAndGlyphs" fill="#000" stroke="#000" stroke-width="0.5" transform="rotate(-90 260.6 665.02)">Agonist Response Score</text>
<text x="3" y="728.1" font-size="27.76" textLength="19.52" lengthAdjust="spacingAndGlyphs" font-weight="bold" fill="#000" stroke="#000" stroke-width="1">G</text>
<text x="117.34" y="731.4" font-size="13.81" textLength="30" lengthAdjust="spacingAndGlyphs" font-weight="bold" fill="#000" stroke="#000" stroke-width="0.5">ADP</text>
<text x="38.14" y="746.5" font-size="13.81" textLength="141.39" lengthAdjust="spacingAndGlyphs" fill="#000" stroke="#000" stroke-width="0.4">Pearson Coef: 0.0024</text>
<text x="191.82" y="746.5" font-size="13.81" textLength="46.8" lengthAdjust="spacingAndGlyphs" fill="#000" stroke="#000" stroke-width="0.4">P: 0.98</text>
<polyline points="39.4,826.34 41.73,826.59 44.06,826.83 46.39,827.07 48.71,827.31 51.04,827.55 53.37,827.78 55.7,828.02 58.03,828.25 60.36,828.48 62.69,828.71 65.02,828.93 67.34,829.16 69.67,829.38 72,829.6 74.33,829.81 76.66,830.02 78.99,830.23 81.32,830.43 83.65,830.63 85.97,830.83 88.3,831.02 90.63,831.2 92.96,831.38 95.29,831.55 97.62,831.71 99.95,831.87 102.28,832.02 104.6,832.16 106.93,832.29 109.26,832.41 111.59,832.52 113.92,832.61 116.25,832.7 118.58,832.77 120.91,832.82 123.23,832.87 125.56,832.9 127.89,832.91 130.22,832.91 132.55,832.89 134.88,832.86 137.21,832.81 139.54,832.75 141.86,832.68 144.19,832.59 146.52,832.49 148.85,832.37 151.18,832.25 153.51,832.11 155.84,831.97 158.17,831.81 160.49,831.64 162.82,831.47 165.15,831.29 167.48,831.1 169.81,830.91 172.14,830.71 174.47,830.5 176.8,830.29 179.12,830.08 181.45,829.86 183.78,829.64 186.11,829.41 188.44,829.18 190.77,828.95 193.1,828.71 195.43,828.47 197.75,828.23 200.08,827.98 202.41,827.74 204.74,827.49 207.07,827.24 209.4,826.99 211.73,826.74 214.06,826.48 216.38,826.23 218.71,825.97 221.04,825.71 223.37,825.45 225.7,825.19" fill="none" stroke="#952234" stroke-width="1.9" stroke-dasharray="4.5,4.5" stroke-linejoin="round"/>
<polyline points="39.4,850.26 41.73,850 44.06,849.74 46.39,849.49 48.71,849.23 51.04,848.98 53.37,848.73 55.7,848.48 58.03,848.23 60.36,847.98 62.69,847.74 65.02,847.5 67.34,847.26 69.67,847.03 72,846.79 74.33,846.56 76.66,846.34 78.99,846.11 81.32,845.9 83.65,845.68 85.97,845.47 88.3,845.27 90.63,845.07 92.96,844.88 95.29,844.69 97.62,844.51 99.95,844.34 102.28,844.18 104.6,844.02 106.93,843.88 109.26,843.74 111.59,843.62 113.92,843.51 116.25,843.41 118.58,843.32 120.91,843.25 123.23,843.19 125.56,843.15 127.89,843.12 130.22,843.11 132.55,843.11 134.88,843.12 137.21,843.16 139.54,843.2 141.86,843.26 144.19,843.34 146.52,843.42 148.85,843.52 151.18,843.63 153.51,843.75 155.84,843.88 158.17,844.03 160.49,844.18 162.82,844.33 165.15,844.5 167.48,844.67 169.81,844.85 172.14,845.04 174.47,845.23 176.8,845.42 179.12,845.62 181.45,845.83 183.78,846.03 186.11,846.25 188.44,846.46 190.77,846.68 193.1,846.9 195.43,847.12 197.75,847.35 200.08,847.58 202.41,847.81 204.74,848.04 207.07,848.28 209.4,848.52 211.73,848.75 214.06,848.99 216.38,849.23 218.71,849.48 221.04,849.72 223.37,849.96 225.7,850.21" fill="none" stroke="#952234" stroke-width="1.9" stroke-dasharray="4.5,4.5" stroke-linejoin="round"/>
<line x1="39.4" y1="838.3" x2="225.7" y2="837.7" stroke="#ad1e2e" stroke-width="1.9"/>
<rect x="46.01" y="900.8" width="1.2" height="6.7" fill="#000"/>
<rect x="62.54" y="900.8" width="1.2" height="6.7" fill="#000"/>
<rect x="63.65" y="900.8" width="1.2" height="6.7" fill="#000"/>
<rect x="64.77" y="900.8" width="1.2" height="6.7" fill="#000"/>
<rect x="66.36" y="900.8" width="1.2" height="6.7" fill="#000"/>
<rect x="69.11" y="900.8" width="1.2" height="6.7" fill="#000"/>
<rect x="70.49" y="900.8" width="1.2" height="6.7" fill="#000"/>
<rect x="71.87" y="900.8" width="1.2" height="6.7" fill="#000"/>
<rect x="73.25" y="900.8" width="1.2" height="6.7" fill="#000"/>
<rect x="74.63" y="900.8" width="1.2" height="6.7" fill="#000"/>
<rect x="77.17" y="900.8" width="1.2" height="6.7" fill="#000"/>
<rect x="78.12" y="900.8" width="1.2" height="6.7" fill="#000"/>
<rect x="82.29" y="900.8" width="1.2" height="6.7" fill="#000"/>
<rect x="84.91" y="900.8" width="1.2" height="6.7" fill="#000"/>
<rect x="86.22" y="900.8" width="1.2" height="6.7" fill="#000"/>
<rect x="88.83" y="900.8" width="1.2" height="6.7" fill="#000"/>
<rect x="90.14" y="900.8" width="1.2" height="6.7" fill="#000"/>
<rect x="91.44" y="900.8" width="1.2" height="6.7" fill="#000"/>
<rect x="92.75" y="900.8" width="1.2" height="6.7" fill="#000"/>
<rect x="95.3" y="900.8" width="1.2" height="6.7" fill="#000"/>
<rect x="96.63" y="900.8" width="1.2" height="6.7" fill="#000"/>
<rect x="99.29" y="900.8" width="1.2" height="6.7" fill="#000"/>
<rect x="100.62" y="900.8" width="1.2" height="6.7" fill="#000"/>
<rect x="101.95" y="900.8" width="1.2" height="6.7" fill="#000"/>
<rect x="103.27" y="900.8" width="1.2" height="6.7" fill="#000"/>
<rect x="104.6" y="900.8" width="1.2" height="6.7" fill="#000"/>
<rect x="105.93" y="900.8" width="1.2" height="6.7" fill="#000"/>
<rect x="109.92" y="900.8" width="1.2" height="6.7" fill="#000"/>
<rect x="112.47" y="900.8" width="1.2" height="6.7" fill="#000"/>
<rect x="114.06" y="900.8" width="1.2" height="6.7" fill="#000"/>
<rect x="115.65" y="900.8" width="1.2" height="6.7" fill="#000"/>
<rect x="117.24" y="900.8" width="1.2" height="6.7" fill="#000"/>
<rect x="118.83" y="900.8" width="1.2" height="6.7" fill="#000"/>
<rect x="120.74" y="900.8" width="1.2" height="6.7" fill="#000"/>
<rect x="122.33" y="900.8" width="1.2" height="6.7" fill="#000"/>
<rect x="124.23" y="900.8" width="1.2" height="6.7" fill="#000"/>
<rect x="125.67" y="900.8" width="1.2" height="6.7" fill="#000"/>
<rect x="127.1" y="900.8" width="1.2" height="6.7" fill="#000"/>
<rect x="129.64" y="900.8" width="1.2" height="6.7" fill="#000"/>
<rect x="130.94" y="900.8" width="1.2" height="6.7" fill="#000"/>
<rect x="132.25" y="900.8" width="1.2" height="6.7" fill="#000"/>
<rect x="133.55" y="900.8" width="1.2" height="6.7" fill="#000"/>
<rect x="134.86" y="900.8" width="1.2" height="6.7" fill="#000"/>
<rect x="136.16" y="900.8" width="1.2" height="6.7" fill="#000"/>
<rect x="137.46" y="900.8" width="1.2" height="6.7" fill="#000"/>
<rect x="138.77" y="900.8" width="1.2" height="6.7" fill="#000"/>
<rect x="140.07" y="900.8" width="1.2" height="6.7" fill="#000"/>
<rect x="141.37" y="900.8" width="1.2" height="6.7" fill="#000"/>
<rect x="142.68" y="900.8" width="1.2" height="6.7" fill="#000"/>
<rect x="148.08" y="900.8" width="1.2" height="6.7" fill="#000"/>
<rect x="149.52" y="900.8" width="1.2" height="6.7" fill="#000"/>
<rect x="150.95" y="900.8" width="1.2" height="6.7" fill="#000"/>
<rect x="152.54" y="900.8" width="1.2" height="6.7" fill="#000"/>
<rect x="154.92" y="900.8" width="1.2" height="6.7" fill="#000"/>
<rect x="156.11" y="900.8" width="1.2" height="6.7" fill="#000"/>
<rect x="159.21" y="900.8" width="1.2" height="6.7" fill="#000"/>
<rect x="161.12" y="900.8" width="1.2" height="6.7" fill="#000"/>
<rect x="162.71" y="900.8" width="1.2" height="6.7" fill="#000"/>
<rect x="165.36" y="900.8" width="1.2" height="6.7" fill="#000"/>
<rect x="166.69" y="900.8" width="1.2" height="6.7" fill="#000"/>
<rect x="168.01" y="900.8" width="1.2" height="6.7" fill="#000"/>
<rect x="169.34" y="900.8" width="1.2" height="6.7" fill="#000"/>
<rect x="170.66" y="900.8" width="1.2" height="6.7" fill="#000"/>
<rect x="171.99" y="900.8" width="1.2" height="6.7" fill="#000"/>
<rect x="173.31" y="900.8" width="1.2" height="6.7" fill="#000"/>
<rect x="174.64" y="900.8" width="1.2" height="6.7" fill="#000"/>
<rect x="175.96" y="900.8" width="1.2" height="6.7" fill="#000"/>
<rect x="177.29" y="900.8" width="1.2" height="6.7" fill="#000"/>
<rect x="178.61" y="900.8" width="1.2" height="6.7" fill="#000"/>
<rect x="182.11" y="900.8" width="1.2" height="6.7" fill="#000"/>
<rect x="183.3" y="900.8" width="1.2" height="6.7" fill="#000"/>
<rect x="184.5" y="900.8" width="1.2" height="6.7" fill="#000"/>
<rect x="185.69" y="900.8" width="1.2" height="6.7" fill="#000"/>
<rect x="186.88" y="900.8" width="1.2" height="6.7" fill="#000"/>
<rect x="188.47" y="900.8" width="1.2" height="6.7" fill="#000"/>
<rect x="189.66" y="900.8" width="1.2" height="6.7" fill="#000"/>
<rect x="190.85" y="900.8" width="1.2" height="6.7" fill="#000"/>
<rect x="192.05" y="900.8" width="1.2" height="6.7" fill="#000"/>
<rect x="197.69" y="900.8" width="1.2" height="6.7" fill="#000"/>
<rect x="198.88" y="900.8" width="1.2" height="6.7" fill="#000"/>
<rect x="200.08" y="900.8" width="1.2" height="6.7" fill="#000"/>
<rect x="201.27" y="900.8" width="1.2" height="6.7" fill="#000"/>
<rect x="202.46" y="900.8" width="1.2" height="6.7" fill="#000"/>
<rect x="203.42" y="900.8" width="1.2" height="6.7" fill="#000"/>
<rect x="205.01" y="900.8" width="1.2" height="6.7" fill="#000"/>
<rect x="217.41" y="900.8" width="1.2" height="6.7" fill="#000"/>
<rect x="39.4" y="750.2" width="186.3" height="159.2" fill="none" stroke="#000" stroke-width="1.7"/>
<line x1="35.6" y1="903.7" x2="39.4" y2="903.7" stroke="#000" stroke-width="1.5"/>
<text x="33.5" y="907.7" font-size="14.4" textLength="8.01" lengthAdjust="spacingAndGlyphs" fill="#000" stroke="#000" stroke-width="0.5" transform="rotate(-90 33.5 907.7)">0</text>
<line x1="35.6" y1="874.34" x2="39.4" y2="874.34" stroke="#000" stroke-width="1.5"/>
<text x="33.5" y="882.35" font-size="14.4" textLength="16.02" lengthAdjust="spacingAndGlyphs" fill="#000" stroke="#000" stroke-width="0.5" transform="rotate(-90 33.5 882.35)">20</text>
<line x1="35.6" y1="844.98" x2="39.4" y2="844.98" stroke="#000" stroke-width="1.5"/>
<text x="33.5" y="852.99" font-size="14.4" textLength="16.02" lengthAdjust="spacingAndGlyphs" fill="#000" stroke="#000" stroke-width="0.5" transform="rotate(-90 33.5 852.99)">40</text>
<line x1="35.6" y1="815.62" x2="39.4" y2="815.62" stroke="#000" stroke-width="1.5"/>
<text x="33.5" y="823.63" font-size="14.4" textLength="16.02" lengthAdjust="spacingAndGlyphs" fill="#000" stroke="#000" stroke-width="0.5" transform="rotate(-90 33.5 823.63)">60</text>
<line x1="35.6" y1="786.26" x2="39.4" y2="786.26" stroke="#000" stroke-width="1.5"/>
<text x="33.5" y="794.27" font-size="14.4" textLength="16.02" lengthAdjust="spacingAndGlyphs" fill="#000" stroke="#000" stroke-width="0.5" transform="rotate(-90 33.5 794.27)">80</text>
<line x1="35.6" y1="756.9" x2="39.4" y2="756.9" stroke="#000" stroke-width="1.5"/>
<text x="33.5" y="768.91" font-size="14.4" textLength="24.03" lengthAdjust="spacingAndGlyphs" fill="#000" stroke="#000" stroke-width="0.5" transform="rotate(-90 33.5 768.91)">100</text>
<line x1="41.2" y1="909.4" x2="41.2" y2="913.2" stroke="#000" stroke-width="1.5"/>
<text x="37.2" y="927.6" font-size="14.4" textLength="8.01" lengthAdjust="spacingAndGlyphs" fill="#000" stroke="#000" stroke-width="0.5">2</text>
<line x1="73" y1="909.4" x2="73" y2="913.2" stroke="#000" stroke-width="1.5"/>
<text x="69" y="927.6" font-size="14.4" textLength="8.01" lengthAdjust="spacingAndGlyphs" fill="#000" stroke="#000" stroke-width="0.5">3</text>
<line x1="104.8" y1="909.4" x2="104.8" y2="913.2" stroke="#000" stroke-width="1.5"/>
<text x="100.8" y="927.6" font-size="14.4" textLength="8.01" lengthAdjust="spacingAndGlyphs" fill="#000" stroke="#000" stroke-width="0.5">4</text>
<line x1="136.6" y1="909.4" x2="136.6" y2="913.2" stroke="#000" stroke-width="1.5"/>
<text x="132.6" y="927.6" font-size="14.4" textLength="8.01" lengthAdjust="spacingAndGlyphs" fill="#000" stroke="#000" stroke-width="0.5">5</text>
<line x1="168.4" y1="909.4" x2="168.4" y2="913.2" stroke="#000" stroke-width="1.5"/>
<text x="164.4" y="927.6" font-size="14.4" textLength="8.01" lengthAdjust="spacingAndGlyphs" fill="#000" stroke="#000" stroke-width="0.5">6</text>
<line x1="200.2" y1="909.4" x2="200.2" y2="913.2" stroke="#000" stroke-width="1.5"/>
<text x="196.2" y="927.6" font-size="14.4" textLength="8.01" lengthAdjust="spacingAndGlyphs" fill="#000" stroke="#000" stroke-width="0.5">7</text>
<text x="57.43" y="943" font-size="14.4" textLength="148.85" lengthAdjust="spacingAndGlyphs" fill="#000" stroke="#000" stroke-width="0.5">PCTP RNA level (log2)</text>
<text x="18.5" y="905.82" font-size="14.4" textLength="158.94" lengthAdjust="spacingAndGlyphs" fill="#000" stroke="#000" stroke-width="0.5" transform="rotate(-90 18.5 905.82)">Agonist Response Score</text>
<text x="248.03" y="731.2" font-size="27.47" textLength="18.61" lengthAdjust="spacingAndGlyphs" font-weight="bold" fill="#000" stroke="#000" stroke-width="1">H</text>
<text x="353.66" y="733.4" font-size="13.37" textLength="62.21" lengthAdjust="spacingAndGlyphs" font-weight="bold" fill="#000" stroke="#000" stroke-width="0.5">PAR1-AP</text>
<text x="291.55" y="747.5" font-size="13.81" textLength="132.17" lengthAdjust="spacingAndGlyphs" fill="#000" stroke="#000" stroke-width="0.4">Pearson Coef: −0.13</text>
<text x="436.84" y="747.5" font-size="13.81" textLength="53.85" lengthAdjust="spacingAndGlyphs" fill="#000" stroke="#000" stroke-width="0.4">P: 0.097</text>
<polyline points="294.4,825.1 296.71,825.52 299.01,825.94 301.32,826.36 303.63,826.78 305.94,827.2 308.25,827.61 310.55,828.03 312.86,828.44 315.17,828.85 317.47,829.26 319.78,829.67 322.09,830.07 324.4,830.48 326.7,830.88 329.01,831.28 331.32,831.68 333.63,832.07 335.94,832.47 338.24,832.86 340.55,833.24 342.86,833.62 345.16,834 347.47,834.37 349.78,834.74 352.09,835.1 354.39,835.46 356.7,835.81 359.01,836.16 361.32,836.49 363.62,836.82 365.93,837.14 368.24,837.45 370.55,837.75 372.86,838.05 375.16,838.33 377.47,838.6 379.78,838.85 382.08,839.1 384.39,839.33 386.7,839.55 389.01,839.76 391.31,839.96 393.62,840.14 395.93,840.31 398.24,840.48 400.54,840.63 402.85,840.77 405.16,840.9 407.47,841.02 409.77,841.14 412.08,841.25 414.39,841.35 416.7,841.44 419,841.53 421.31,841.61 423.62,841.69 425.93,841.76 428.24,841.83 430.54,841.89 432.85,841.95 435.16,842.01 437.46,842.06 439.77,842.11 442.08,842.16 444.39,842.21 446.69,842.25 449,842.29 451.31,842.33 453.62,842.37 455.93,842.41 458.23,842.44 460.54,842.48 462.85,842.51 465.15,842.54 467.46,842.57 469.77,842.6 472.08,842.63 474.38,842.66 476.69,842.68 479,842.71" fill="none" stroke="#952234" stroke-width="1.9" stroke-dasharray="4.5,4.5" stroke-linejoin="round"/>
<polyline points="294.4,843.7 296.71,843.73 299.01,843.75 301.32,843.78 303.63,843.81 305.94,843.84 308.25,843.87 310.55,843.91 312.86,843.94 315.17,843.98 317.47,844.02 319.78,844.05 322.09,844.1 324.4,844.14 326.7,844.18 329.01,844.23 331.32,844.28 333.63,844.33 335.94,844.39 338.24,844.45 340.55,844.51 342.86,844.58 345.16,844.65 347.47,844.72 349.78,844.8 352.09,844.88 354.39,844.97 356.7,845.07 359.01,845.17 361.32,845.28 363.62,845.4 365.93,845.53 368.24,845.67 370.55,845.81 372.86,845.97 375.16,846.14 377.47,846.31 379.78,846.5 382.08,846.71 384.39,846.92 386.7,847.15 389.01,847.39 391.31,847.64 393.62,847.9 395.93,848.18 398.24,848.46 400.54,848.76 402.85,849.06 405.16,849.38 407.47,849.7 409.77,850.04 412.08,850.38 414.39,850.72 416.7,851.08 419,851.44 421.31,851.8 423.62,852.17 425.93,852.55 428.24,852.93 430.54,853.31 432.85,853.7 435.16,854.09 437.46,854.48 439.77,854.88 442.08,855.28 444.39,855.68 446.69,856.08 449,856.49 451.31,856.9 453.62,857.3 455.93,857.72 458.23,858.13 460.54,858.54 462.85,858.96 465.15,859.37 467.46,859.79 469.77,860.21 472.08,860.63 474.38,861.05 476.69,861.47 479,861.89" fill="none" stroke="#952234" stroke-width="1.9" stroke-dasharray="4.5,4.5" stroke-linejoin="round"/>
<line x1="294.4" y1="834.4" x2="479" y2="852.3" stroke="#ad1e2e" stroke-width="1.9"/>
<rect x="300.75" y="900.6" width="1.2" height="6.7" fill="#000"/>
<rect x="317.12" y="900.6" width="1.2" height="6.7" fill="#000"/>
<rect x="318.22" y="900.6" width="1.2" height="6.7" fill="#000"/>
<rect x="319.32" y="900.6" width="1.2" height="6.7" fill="#000"/>
<rect x="320.9" y="900.6" width="1.2" height="6.7" fill="#000"/>
<rect x="323.63" y="900.6" width="1.2" height="6.7" fill="#000"/>
<rect x="324.99" y="900.6" width="1.2" height="6.7" fill="#000"/>
<rect x="326.36" y="900.6" width="1.2" height="6.7" fill="#000"/>
<rect x="327.72" y="900.6" width="1.2" height="6.7" fill="#000"/>
<rect x="329.08" y="900.6" width="1.2" height="6.7" fill="#000"/>
<rect x="331.6" y="900.6" width="1.2" height="6.7" fill="#000"/>
<rect x="332.55" y="900.6" width="1.2" height="6.7" fill="#000"/>
<rect x="336.67" y="900.6" width="1.2" height="6.7" fill="#000"/>
<rect x="339.26" y="900.6" width="1.2" height="6.7" fill="#000"/>
<rect x="340.56" y="900.6" width="1.2" height="6.7" fill="#000"/>
<rect x="343.14" y="900.6" width="1.2" height="6.7" fill="#000"/>
<rect x="344.44" y="900.6" width="1.2" height="6.7" fill="#000"/>
<rect x="345.73" y="900.6" width="1.2" height="6.7" fill="#000"/>
<rect x="347.03" y="900.6" width="1.2" height="6.7" fill="#000"/>
<rect x="349.55" y="900.6" width="1.2" height="6.7" fill="#000"/>
<rect x="350.86" y="900.6" width="1.2" height="6.7" fill="#000"/>
<rect x="353.49" y="900.6" width="1.2" height="6.7" fill="#000"/>
<rect x="354.81" y="900.6" width="1.2" height="6.7" fill="#000"/>
<rect x="356.13" y="900.6" width="1.2" height="6.7" fill="#000"/>
<rect x="357.44" y="900.6" width="1.2" height="6.7" fill="#000"/>
<rect x="358.76" y="900.6" width="1.2" height="6.7" fill="#000"/>
<rect x="360.08" y="900.6" width="1.2" height="6.7" fill="#000"/>
<rect x="364.03" y="900.6" width="1.2" height="6.7" fill="#000"/>
<rect x="366.54" y="900.6" width="1.2" height="6.7" fill="#000"/>
<rect x="368.12" y="900.6" width="1.2" height="6.7" fill="#000"/>
<rect x="369.69" y="900.6" width="1.2" height="6.7" fill="#000"/>
<rect x="371.27" y="900.6" width="1.2" height="6.7" fill="#000"/>
<rect x="372.84" y="900.6" width="1.2" height="6.7" fill="#000"/>
<rect x="374.73" y="900.6" width="1.2" height="6.7" fill="#000"/>
<rect x="376.3" y="900.6" width="1.2" height="6.7" fill="#000"/>
<rect x="378.19" y="900.6" width="1.2" height="6.7" fill="#000"/>
<rect x="379.61" y="900.6" width="1.2" height="6.7" fill="#000"/>
<rect x="381.03" y="900.6" width="1.2" height="6.7" fill="#000"/>
<rect x="383.54" y="900.6" width="1.2" height="6.7" fill="#000"/>
<rect x="384.83" y="900.6" width="1.2" height="6.7" fill="#000"/>
<rect x="386.13" y="900.6" width="1.2" height="6.7" fill="#000"/>
<rect x="387.42" y="900.6" width="1.2" height="6.7" fill="#000"/>
<rect x="388.71" y="900.6" width="1.2" height="6.7" fill="#000"/>
<rect x="390" y="900.6" width="1.2" height="6.7" fill="#000"/>
<rect x="391.29" y="900.6" width="1.2" height="6.7" fill="#000"/>
<rect x="392.58" y="900.6" width="1.2" height="6.7" fill="#000"/>
<rect x="393.87" y="900.6" width="1.2" height="6.7" fill="#000"/>
<rect x="395.16" y="900.6" width="1.2" height="6.7" fill="#000"/>
<rect x="396.45" y="900.6" width="1.2" height="6.7" fill="#000"/>
<rect x="401.8" y="900.6" width="1.2" height="6.7" fill="#000"/>
<rect x="403.22" y="900.6" width="1.2" height="6.7" fill="#000"/>
<rect x="404.64" y="900.6" width="1.2" height="6.7" fill="#000"/>
<rect x="406.21" y="900.6" width="1.2" height="6.7" fill="#000"/>
<rect x="408.57" y="900.6" width="1.2" height="6.7" fill="#000"/>
<rect x="409.75" y="900.6" width="1.2" height="6.7" fill="#000"/>
<rect x="412.82" y="900.6" width="1.2" height="6.7" fill="#000"/>
<rect x="414.71" y="900.6" width="1.2" height="6.7" fill="#000"/>
<rect x="416.28" y="900.6" width="1.2" height="6.7" fill="#000"/>
<rect x="418.91" y="900.6" width="1.2" height="6.7" fill="#000"/>
<rect x="420.22" y="900.6" width="1.2" height="6.7" fill="#000"/>
<rect x="421.53" y="900.6" width="1.2" height="6.7" fill="#000"/>
<rect x="422.84" y="900.6" width="1.2" height="6.7" fill="#000"/>
<rect x="424.15" y="900.6" width="1.2" height="6.7" fill="#000"/>
<rect x="425.46" y="900.6" width="1.2" height="6.7" fill="#000"/>
<rect x="426.78" y="900.6" width="1.2" height="6.7" fill="#000"/>
<rect x="428.09" y="900.6" width="1.2" height="6.7" fill="#000"/>
<rect x="429.4" y="900.6" width="1.2" height="6.7" fill="#000"/>
<rect x="430.71" y="900.6" width="1.2" height="6.7" fill="#000"/>
<rect x="432.02" y="900.6" width="1.2" height="6.7" fill="#000"/>
<rect x="435.49" y="900.6" width="1.2" height="6.7" fill="#000"/>
<rect x="436.67" y="900.6" width="1.2" height="6.7" fill="#000"/>
<rect x="437.85" y="900.6" width="1.2" height="6.7" fill="#000"/>
<rect x="439.03" y="900.6" width="1.2" height="6.7" fill="#000"/>
<rect x="440.21" y="900.6" width="1.2" height="6.7" fill="#000"/>
<rect x="441.78" y="900.6" width="1.2" height="6.7" fill="#000"/>
<rect x="442.96" y="900.6" width="1.2" height="6.7" fill="#000"/>
<rect x="444.14" y="900.6" width="1.2" height="6.7" fill="#000"/>
<rect x="445.32" y="900.6" width="1.2" height="6.7" fill="#000"/>
<rect x="450.91" y="900.6" width="1.2" height="6.7" fill="#000"/>
<rect x="452.09" y="900.6" width="1.2" height="6.7" fill="#000"/>
<rect x="453.27" y="900.6" width="1.2" height="6.7" fill="#000"/>
<rect x="454.45" y="900.6" width="1.2" height="6.7" fill="#000"/>
<rect x="455.63" y="900.6" width="1.2" height="6.7" fill="#000"/>
<rect x="456.58" y="900.6" width="1.2" height="6.7" fill="#000"/>
<rect x="458.15" y="900.6" width="1.2" height="6.7" fill="#000"/>
<rect x="470.43" y="900.6" width="1.2" height="6.7" fill="#000"/>
<rect x="294.4" y="751.5" width="184.6" height="158.7" fill="none" stroke="#000" stroke-width="1.7"/>
<line x1="290.6" y1="903.5" x2="294.4" y2="903.5" stroke="#000" stroke-width="1.5"/>
<text x="285.6" y="907.5" font-size="14.4" textLength="8.01" lengthAdjust="spacingAndGlyphs" fill="#000" stroke="#000" stroke-width="0.5" transform="rotate(-90 285.6 907.5)">0</text>
<line x1="290.6" y1="874.3" x2="294.4" y2="874.3" stroke="#000" stroke-width="1.5"/>
<text x="285.6" y="882.31" font-size="14.4" textLength="16.02" lengthAdjust="spacingAndGlyphs" fill="#000" stroke="#000" stroke-width="0.5" transform="rotate(-90 285.6 882.31)">20</text>
<line x1="290.6" y1="845.1" x2="294.4" y2="845.1" stroke="#000" stroke-width="1.5"/>
<text x="285.6" y="853.11" font-size="14.4" textLength="16.02" lengthAdjust="spacingAndGlyphs" fill="#000" stroke="#000" stroke-width="0.5" transform="rotate(-90 285.6 853.11)">40</text>
<line x1="290.6" y1="815.9" x2="294.4" y2="815.9" stroke="#000" stroke-width="1.5"/>
<text x="285.6" y="823.91" font-size="14.4" textLength="16.02" lengthAdjust="spacingAndGlyphs" fill="#000" stroke="#000" stroke-width="0.5" transform="rotate(-90 285.6 823.91)">60</text>
<line x1="290.6" y1="786.7" x2="294.4" y2="786.7" stroke="#000" stroke-width="1.5"/>
<text x="285.6" y="794.71" font-size="14.4" textLength="16.02" lengthAdjust="spacingAndGlyphs" fill="#000" stroke="#000" stroke-width="0.5" transform="rotate(-90 285.6 794.71)">80</text>
<line x1="290.6" y1="757.5" x2="294.4" y2="757.5" stroke="#000" stroke-width="1.5"/>
<text x="285.6" y="769.51" font-size="14.4" textLength="24.03" lengthAdjust="spacingAndGlyphs" fill="#000" stroke="#000" stroke-width="0.5" transform="rotate(-90 285.6 769.51)">100</text>
<line x1="296" y1="910.2" x2="296" y2="914" stroke="#000" stroke-width="1.5"/>
<text x="292" y="927.3" font-size="14.4" textLength="8.01" lengthAdjust="spacingAndGlyphs" fill="#000" stroke="#000" stroke-width="0.5">2</text>
<line x1="327.48" y1="910.2" x2="327.48" y2="914" stroke="#000" stroke-width="1.5"/>
<text x="323.48" y="927.3" font-size="14.4" textLength="8.01" lengthAdjust="spacingAndGlyphs" fill="#000" stroke="#000" stroke-width="0.5">3</text>
<line x1="358.96" y1="910.2" x2="358.96" y2="914" stroke="#000" stroke-width="1.5"/>
<text x="354.96" y="927.3" font-size="14.4" textLength="8.01" lengthAdjust="spacingAndGlyphs" fill="#000" stroke="#000" stroke-width="0.5">4</text>
<line x1="390.44" y1="910.2" x2="390.44" y2="914" stroke="#000" stroke-width="1.5"/>
<text x="386.44" y="927.3" font-size="14.4" textLength="8.01" lengthAdjust="spacingAndGlyphs" fill="#000" stroke="#000" stroke-width="0.5">5</text>
<line x1="421.92" y1="910.2" x2="421.92" y2="914" stroke="#000" stroke-width="1.5"/>
<text x="417.92" y="927.3" font-size="14.4" textLength="8.01" lengthAdjust="spacingAndGlyphs" fill="#000" stroke="#000" stroke-width="0.5">6</text>
<line x1="453.4" y1="910.2" x2="453.4" y2="914" stroke="#000" stroke-width="1.5"/>
<text x="449.4" y="927.3" font-size="14.4" textLength="8.01" lengthAdjust="spacingAndGlyphs" fill="#000" stroke="#000" stroke-width="0.5">7</text>
<text x="312.33" y="942.4" font-size="14.4" textLength="148.14" lengthAdjust="spacingAndGlyphs" fill="#000" stroke="#000" stroke-width="0.5">PCTP RNA level (log2)</text>
<text x="266" y="905.82" font-size="14.4" textLength="158.94" lengthAdjust="spacingAndGlyphs" fill="#000" stroke="#000" stroke-width="0.5" transform="rotate(-90 266 905.82)">Agonist Response Score</text>
<text x="-0.57" y="974.1" font-size="27.03" textLength="7.16" lengthAdjust="spacingAndGlyphs" font-weight="bold" fill="#000" stroke="#000" stroke-width="1">I</text>
<text x="100.25" y="974" font-size="14.24" textLength="62.93" lengthAdjust="spacingAndGlyphs" font-weight="bold" fill="#000" stroke="#000" stroke-width="0.5">PAR4-AP</text>
<text x="37.84" y="990.4" font-size="14.53" textLength="124.8" lengthAdjust="spacingAndGlyphs" fill="#000" stroke="#000" stroke-width="0.4">Pearson Coef: 0.43</text>
<text x="176.07" y="990.4" font-size="14.53" textLength="68.6" lengthAdjust="spacingAndGlyphs" fill="#000" stroke="#000" stroke-width="0.4">P: 3.5e−08</text>
<polyline points="39.4,1113.15 41.72,1112.42 44.05,1111.7 46.37,1110.97 48.7,1110.25 51.02,1109.52 53.34,1108.79 55.67,1108.06 57.99,1107.32 60.31,1106.59 62.64,1105.85 64.96,1105.12 67.28,1104.38 69.61,1103.63 71.93,1102.89 74.26,1102.14 76.58,1101.39 78.9,1100.64 81.23,1099.88 83.55,1099.12 85.88,1098.35 88.2,1097.58 90.52,1096.81 92.85,1096.03 95.17,1095.24 97.49,1094.45 99.82,1093.65 102.14,1092.85 104.47,1092.03 106.79,1091.21 109.11,1090.38 111.44,1089.54 113.76,1088.69 116.08,1087.82 118.41,1086.95 120.73,1086.06 123.06,1085.16 125.38,1084.24 127.7,1083.31 130.03,1082.36 132.35,1081.4 134.67,1080.42 137,1079.43 139.32,1078.42 141.65,1077.4 143.97,1076.36 146.29,1075.31 148.62,1074.25 150.94,1073.17 153.26,1072.08 155.59,1070.98 157.91,1069.87 160.24,1068.75 162.56,1067.62 164.88,1066.48 167.21,1065.34 169.53,1064.19 171.85,1063.03 174.18,1061.86 176.5,1060.69 178.83,1059.52 181.15,1058.34 183.47,1057.15 185.8,1055.96 188.12,1054.77 190.44,1053.58 192.77,1052.38 195.09,1051.18 197.42,1049.98 199.74,1048.77 202.06,1047.56 204.39,1046.35 206.71,1045.14 209.03,1043.93 211.36,1042.71 213.68,1041.49 216,1040.27 218.33,1039.05 220.65,1037.83 222.98,1036.61 225.3,1035.39" fill="none" stroke="#952234" stroke-width="1.9" stroke-dasharray="4.5,4.5" stroke-linejoin="round"/>
<polyline points="39.4,1137.25 41.72,1136.03 44.05,1134.81 46.37,1133.58 48.7,1132.36 51.02,1131.14 53.34,1129.93 55.67,1128.71 57.99,1127.5 60.31,1126.28 62.64,1125.07 64.96,1123.86 67.28,1122.65 69.61,1121.45 71.93,1120.25 74.26,1119.05 76.58,1117.85 78.9,1116.66 81.23,1115.47 83.55,1114.28 85.88,1113.1 88.2,1111.92 90.52,1110.75 92.85,1109.58 95.17,1108.42 97.49,1107.26 99.82,1106.11 102.14,1104.97 104.47,1103.84 106.79,1102.71 109.11,1101.59 111.44,1100.49 113.76,1099.39 116.08,1098.31 118.41,1097.24 120.73,1096.18 123.06,1095.13 125.38,1094.1 127.7,1093.09 130.03,1092.08 132.35,1091.1 134.67,1090.13 137,1089.17 139.32,1088.23 141.65,1087.31 143.97,1086.4 146.29,1085.5 148.62,1084.62 150.94,1083.75 153.26,1082.89 155.59,1082.04 157.91,1081.21 160.24,1080.38 162.56,1079.56 164.88,1078.75 167.21,1077.95 169.53,1077.15 171.85,1076.37 174.18,1075.58 176.5,1074.81 178.83,1074.03 181.15,1073.27 183.47,1072.5 185.8,1071.74 188.12,1070.99 190.44,1070.23 192.77,1069.49 195.09,1068.74 197.42,1067.99 199.74,1067.25 202.06,1066.51 204.39,1065.78 206.71,1065.04 209.03,1064.31 211.36,1063.58 213.68,1062.84 216,1062.12 218.33,1061.39 220.65,1060.66 222.98,1059.94 225.3,1059.21" fill="none" stroke="#952234" stroke-width="1.9" stroke-dasharray="4.5,4.5" stroke-linejoin="round"/>
<line x1="39.4" y1="1125.2" x2="225.3" y2="1047.3" stroke="#ad1e2e" stroke-width="1.9"/>
<rect x="45.42" y="1148.3" width="1.2" height="6.4" fill="#000"/>
<rect x="62.01" y="1148.3" width="1.2" height="6.4" fill="#000"/>
<rect x="63.13" y="1148.3" width="1.2" height="6.4" fill="#000"/>
<rect x="64.24" y="1148.3" width="1.2" height="6.4" fill="#000"/>
<rect x="65.84" y="1148.3" width="1.2" height="6.4" fill="#000"/>
<rect x="68.6" y="1148.3" width="1.2" height="6.4" fill="#000"/>
<rect x="69.99" y="1148.3" width="1.2" height="6.4" fill="#000"/>
<rect x="71.37" y="1148.3" width="1.2" height="6.4" fill="#000"/>
<rect x="72.75" y="1148.3" width="1.2" height="6.4" fill="#000"/>
<rect x="74.13" y="1148.3" width="1.2" height="6.4" fill="#000"/>
<rect x="76.69" y="1148.3" width="1.2" height="6.4" fill="#000"/>
<rect x="77.64" y="1148.3" width="1.2" height="6.4" fill="#000"/>
<rect x="81.82" y="1148.3" width="1.2" height="6.4" fill="#000"/>
<rect x="84.45" y="1148.3" width="1.2" height="6.4" fill="#000"/>
<rect x="85.76" y="1148.3" width="1.2" height="6.4" fill="#000"/>
<rect x="88.38" y="1148.3" width="1.2" height="6.4" fill="#000"/>
<rect x="89.69" y="1148.3" width="1.2" height="6.4" fill="#000"/>
<rect x="91" y="1148.3" width="1.2" height="6.4" fill="#000"/>
<rect x="92.32" y="1148.3" width="1.2" height="6.4" fill="#000"/>
<rect x="94.87" y="1148.3" width="1.2" height="6.4" fill="#000"/>
<rect x="96.2" y="1148.3" width="1.2" height="6.4" fill="#000"/>
<rect x="98.87" y="1148.3" width="1.2" height="6.4" fill="#000"/>
<rect x="100.2" y="1148.3" width="1.2" height="6.4" fill="#000"/>
<rect x="101.54" y="1148.3" width="1.2" height="6.4" fill="#000"/>
<rect x="102.87" y="1148.3" width="1.2" height="6.4" fill="#000"/>
<rect x="104.21" y="1148.3" width="1.2" height="6.4" fill="#000"/>
<rect x="105.54" y="1148.3" width="1.2" height="6.4" fill="#000"/>
<rect x="109.54" y="1148.3" width="1.2" height="6.4" fill="#000"/>
<rect x="112.09" y="1148.3" width="1.2" height="6.4" fill="#000"/>
<rect x="113.69" y="1148.3" width="1.2" height="6.4" fill="#000"/>
<rect x="115.28" y="1148.3" width="1.2" height="6.4" fill="#000"/>
<rect x="116.88" y="1148.3" width="1.2" height="6.4" fill="#000"/>
<rect x="118.47" y="1148.3" width="1.2" height="6.4" fill="#000"/>
<rect x="120.39" y="1148.3" width="1.2" height="6.4" fill="#000"/>
<rect x="121.98" y="1148.3" width="1.2" height="6.4" fill="#000"/>
<rect x="123.9" y="1148.3" width="1.2" height="6.4" fill="#000"/>
<rect x="125.33" y="1148.3" width="1.2" height="6.4" fill="#000"/>
<rect x="126.77" y="1148.3" width="1.2" height="6.4" fill="#000"/>
<rect x="129.32" y="1148.3" width="1.2" height="6.4" fill="#000"/>
<rect x="130.63" y="1148.3" width="1.2" height="6.4" fill="#000"/>
<rect x="131.94" y="1148.3" width="1.2" height="6.4" fill="#000"/>
<rect x="133.24" y="1148.3" width="1.2" height="6.4" fill="#000"/>
<rect x="134.55" y="1148.3" width="1.2" height="6.4" fill="#000"/>
<rect x="135.86" y="1148.3" width="1.2" height="6.4" fill="#000"/>
<rect x="137.17" y="1148.3" width="1.2" height="6.4" fill="#000"/>
<rect x="138.48" y="1148.3" width="1.2" height="6.4" fill="#000"/>
<rect x="139.78" y="1148.3" width="1.2" height="6.4" fill="#000"/>
<rect x="141.09" y="1148.3" width="1.2" height="6.4" fill="#000"/>
<rect x="142.4" y="1148.3" width="1.2" height="6.4" fill="#000"/>
<rect x="147.82" y="1148.3" width="1.2" height="6.4" fill="#000"/>
<rect x="149.26" y="1148.3" width="1.2" height="6.4" fill="#000"/>
<rect x="150.69" y="1148.3" width="1.2" height="6.4" fill="#000"/>
<rect x="152.29" y="1148.3" width="1.2" height="6.4" fill="#000"/>
<rect x="154.68" y="1148.3" width="1.2" height="6.4" fill="#000"/>
<rect x="155.88" y="1148.3" width="1.2" height="6.4" fill="#000"/>
<rect x="158.99" y="1148.3" width="1.2" height="6.4" fill="#000"/>
<rect x="160.9" y="1148.3" width="1.2" height="6.4" fill="#000"/>
<rect x="162.5" y="1148.3" width="1.2" height="6.4" fill="#000"/>
<rect x="165.15" y="1148.3" width="1.2" height="6.4" fill="#000"/>
<rect x="166.48" y="1148.3" width="1.2" height="6.4" fill="#000"/>
<rect x="167.81" y="1148.3" width="1.2" height="6.4" fill="#000"/>
<rect x="169.14" y="1148.3" width="1.2" height="6.4" fill="#000"/>
<rect x="170.47" y="1148.3" width="1.2" height="6.4" fill="#000"/>
<rect x="171.8" y="1148.3" width="1.2" height="6.4" fill="#000"/>
<rect x="173.13" y="1148.3" width="1.2" height="6.4" fill="#000"/>
<rect x="174.46" y="1148.3" width="1.2" height="6.4" fill="#000"/>
<rect x="175.79" y="1148.3" width="1.2" height="6.4" fill="#000"/>
<rect x="177.12" y="1148.3" width="1.2" height="6.4" fill="#000"/>
<rect x="178.45" y="1148.3" width="1.2" height="6.4" fill="#000"/>
<rect x="181.96" y="1148.3" width="1.2" height="6.4" fill="#000"/>
<rect x="183.15" y="1148.3" width="1.2" height="6.4" fill="#000"/>
<rect x="184.35" y="1148.3" width="1.2" height="6.4" fill="#000"/>
<rect x="185.54" y="1148.3" width="1.2" height="6.4" fill="#000"/>
<rect x="186.74" y="1148.3" width="1.2" height="6.4" fill="#000"/>
<rect x="188.34" y="1148.3" width="1.2" height="6.4" fill="#000"/>
<rect x="189.53" y="1148.3" width="1.2" height="6.4" fill="#000"/>
<rect x="190.73" y="1148.3" width="1.2" height="6.4" fill="#000"/>
<rect x="191.92" y="1148.3" width="1.2" height="6.4" fill="#000"/>
<rect x="197.59" y="1148.3" width="1.2" height="6.4" fill="#000"/>
<rect x="198.78" y="1148.3" width="1.2" height="6.4" fill="#000"/>
<rect x="199.98" y="1148.3" width="1.2" height="6.4" fill="#000"/>
<rect x="201.17" y="1148.3" width="1.2" height="6.4" fill="#000"/>
<rect x="202.37" y="1148.3" width="1.2" height="6.4" fill="#000"/>
<rect x="203.33" y="1148.3" width="1.2" height="6.4" fill="#000"/>
<rect x="204.92" y="1148.3" width="1.2" height="6.4" fill="#000"/>
<rect x="217.36" y="1148.3" width="1.2" height="6.4" fill="#000"/>
<rect x="39.4" y="998.1" width="185.9" height="159.7" fill="none" stroke="#000" stroke-width="1.7"/>
<line x1="35.6" y1="1151.5" x2="39.4" y2="1151.5" stroke="#000" stroke-width="1.5"/>
<text x="29.8" y="1155.5" font-size="14.4" textLength="8.01" lengthAdjust="spacingAndGlyphs" fill="#000" stroke="#000" stroke-width="0.5" transform="rotate(-90 29.8 1155.5)">0</text>
<line x1="35.6" y1="1122" x2="39.4" y2="1122" stroke="#000" stroke-width="1.5"/>
<text x="29.8" y="1130.01" font-size="14.4" textLength="16.02" lengthAdjust="spacingAndGlyphs" fill="#000" stroke="#000" stroke-width="0.5" transform="rotate(-90 29.8 1130.01)">20</text>
<line x1="35.6" y1="1092.5" x2="39.4" y2="1092.5" stroke="#000" stroke-width="1.5"/>
<text x="29.8" y="1100.51" font-size="14.4" textLength="16.02" lengthAdjust="spacingAndGlyphs" fill="#000" stroke="#000" stroke-width="0.5" transform="rotate(-90 29.8 1100.51)">40</text>
<line x1="35.6" y1="1063" x2="39.4" y2="1063" stroke="#000" stroke-width="1.5"/>
<text x="29.8" y="1071.01" font-size="14.4" textLength="16.02" lengthAdjust="spacingAndGlyphs" fill="#000" stroke="#000" stroke-width="0.5" transform="rotate(-90 29.8 1071.01)">60</text>
<line x1="35.6" y1="1033.5" x2="39.4" y2="1033.5" stroke="#000" stroke-width="1.5"/>
<text x="29.8" y="1041.51" font-size="14.4" textLength="16.02" lengthAdjust="spacingAndGlyphs" fill="#000" stroke="#000" stroke-width="0.5" transform="rotate(-90 29.8 1041.51)">80</text>
<line x1="35.6" y1="1004" x2="39.4" y2="1004" stroke="#000" stroke-width="1.5"/>
<text x="29.8" y="1016.01" font-size="14.4" textLength="24.03" lengthAdjust="spacingAndGlyphs" fill="#000" stroke="#000" stroke-width="0.5" transform="rotate(-90 29.8 1016.01)">100</text>
<line x1="40.6" y1="1157.8" x2="40.6" y2="1161.6" stroke="#000" stroke-width="1.5"/>
<text x="36.6" y="1174.3" font-size="14.4" textLength="8.01" lengthAdjust="spacingAndGlyphs" fill="#000" stroke="#000" stroke-width="0.5">2</text>
<line x1="72.5" y1="1157.8" x2="72.5" y2="1161.6" stroke="#000" stroke-width="1.5"/>
<text x="68.5" y="1174.3" font-size="14.4" textLength="8.01" lengthAdjust="spacingAndGlyphs" fill="#000" stroke="#000" stroke-width="0.5">3</text>
<line x1="104.4" y1="1157.8" x2="104.4" y2="1161.6" stroke="#000" stroke-width="1.5"/>
<text x="100.4" y="1174.3" font-size="14.4" textLength="8.01" lengthAdjust="spacingAndGlyphs" fill="#000" stroke="#000" stroke-width="0.5">4</text>
<line x1="136.3" y1="1157.8" x2="136.3" y2="1161.6" stroke="#000" stroke-width="1.5"/>
<text x="132.3" y="1174.3" font-size="14.4" textLength="8.01" lengthAdjust="spacingAndGlyphs" fill="#000" stroke="#000" stroke-width="0.5">5</text>
<line x1="168.2" y1="1157.8" x2="168.2" y2="1161.6" stroke="#000" stroke-width="1.5"/>
<text x="164.2" y="1174.3" font-size="14.4" textLength="8.01" lengthAdjust="spacingAndGlyphs" fill="#000" stroke="#000" stroke-width="0.5">6</text>
<line x1="200.1" y1="1157.8" x2="200.1" y2="1161.6" stroke="#000" stroke-width="1.5"/>
<text x="196.1" y="1174.3" font-size="14.4" textLength="8.01" lengthAdjust="spacingAndGlyphs" fill="#000" stroke="#000" stroke-width="0.5">7</text>
<text x="57.02" y="1189.8" font-size="14.4" textLength="150.06" lengthAdjust="spacingAndGlyphs" fill="#000" stroke="#000" stroke-width="0.5">PCTP RNA level (log2)</text>
<text x="11" y="1152.82" font-size="14.4" textLength="159.74" lengthAdjust="spacingAndGlyphs" fill="#000" stroke="#000" stroke-width="0.5" transform="rotate(-90 11 1152.82)">Agonist Response Score</text>
<text x="254.29" y="983.5" font-size="27.33" textLength="15.1" lengthAdjust="spacingAndGlyphs" font-weight="bold" fill="#000" stroke="#000" stroke-width="1">J</text>
<line x1="294.3" y1="976" x2="294.3" y2="1162" stroke="#f9f9f9" stroke-width="0.8"/>
<line x1="309.1" y1="976" x2="309.1" y2="1162" stroke="#f9f9f9" stroke-width="0.8"/>
<line x1="324.5" y1="976" x2="324.5" y2="1162" stroke="#f9f9f9" stroke-width="0.8"/>
<line x1="339.8" y1="976" x2="339.8" y2="1162" stroke="#f9f9f9" stroke-width="0.8"/>
<line x1="355.2" y1="976" x2="355.2" y2="1162" stroke="#f9f9f9" stroke-width="0.8"/>
<line x1="371" y1="976" x2="371" y2="1162" stroke="#f9f9f9" stroke-width="0.8"/>
<line x1="386.3" y1="976" x2="386.3" y2="1162" stroke="#f9f9f9" stroke-width="0.8"/>
<line x1="401.6" y1="976" x2="401.6" y2="1162" stroke="#f9f9f9" stroke-width="0.8"/>
<line x1="417" y1="976" x2="417" y2="1162" stroke="#f9f9f9" stroke-width="0.8"/>
<line x1="432.3" y1="976" x2="432.3" y2="1162" stroke="#f9f9f9" stroke-width="0.8"/>
<line x1="447.6" y1="976" x2="447.6" y2="1162" stroke="#f9f9f9" stroke-width="0.8"/>
<line x1="277" y1="982" x2="460" y2="982" stroke="#f9f9f9" stroke-width="0.8"/>
<line x1="277" y1="999" x2="460" y2="999" stroke="#f9f9f9" stroke-width="0.8"/>
<line x1="277" y1="1016.2" x2="460" y2="1016.2" stroke="#f9f9f9" stroke-width="0.8"/>
<line x1="277" y1="1033.5" x2="460" y2="1033.5" stroke="#f9f9f9" stroke-width="0.8"/>
<line x1="277" y1="1051" x2="460" y2="1051" stroke="#f9f9f9" stroke-width="0.8"/>
<line x1="277" y1="1068.5" x2="460" y2="1068.5" stroke="#f9f9f9" stroke-width="0.8"/>
<line x1="277" y1="1086" x2="460" y2="1086" stroke="#f9f9f9" stroke-width="0.8"/>
<line x1="277" y1="1103.5" x2="460" y2="1103.5" stroke="#f9f9f9" stroke-width="0.8"/>
<line x1="277" y1="1121" x2="460" y2="1121" stroke="#f9f9f9" stroke-width="0.8"/>
<line x1="277" y1="1138.5" x2="460" y2="1138.5" stroke="#f9f9f9" stroke-width="0.8"/>
<line x1="277" y1="1156" x2="460" y2="1156" stroke="#f9f9f9" stroke-width="0.8"/>
<circle cx="371.2" cy="981.8" r="5.9" fill="#4b4fa5" stroke="#404390" stroke-width="0.8"/>
<circle cx="359.5" cy="987.9" r="6.6" fill="#4b4fa5" stroke="#404390" stroke-width="0.8"/>
<circle cx="364.5" cy="989.8" r="6.4" fill="#4b4fa5" stroke="#404390" stroke-width="0.8"/>
<circle cx="368.2" cy="994.1" r="5.9" fill="#4b4fa5" stroke="#404390" stroke-width="0.8"/>
<circle cx="384.8" cy="988.5" r="6" fill="#4b4fa5" stroke="#404390" stroke-width="0.8"/>
<circle cx="391.5" cy="992.2" r="6" fill="#4b4fa5" stroke="#404390" stroke-width="0.8"/>
<circle cx="349.7" cy="1009.5" r="6.6" fill="#4b4fa5" stroke="#404390" stroke-width="0.8"/>
<circle cx="364.5" cy="1008.8" r="6.6" fill="#4b4fa5" stroke="#404390" stroke-width="0.8"/>
<circle cx="378" cy="1011.9" r="5.4" fill="#4b4fa5" stroke="#404390" stroke-width="0.8"/>
<circle cx="386.6" cy="1010.1" r="6" fill="#4b4fa5" stroke="#404390" stroke-width="0.8"/>
<circle cx="386.6" cy="1027.3" r="6" fill="#4b4fa5" stroke="#404390" stroke-width="0.8"/>
<circle cx="394.6" cy="1026.1" r="6" fill="#4b4fa5" stroke="#404390" stroke-width="0.8"/>
<circle cx="404.8" cy="997.8" r="5.9" fill="#4b4fa5" stroke="#404390" stroke-width="0.8"/>
<circle cx="406.6" cy="1010.7" r="7.2" fill="#4b4fa5" stroke="#404390" stroke-width="0.8"/>
<circle cx="402.3" cy="1024.2" r="5.9" fill="#4b4fa5" stroke="#404390" stroke-width="0.8"/>
<circle cx="409.1" cy="1029.2" r="6.6" fill="#4b4fa5" stroke="#404390" stroke-width="0.8"/>
<circle cx="420.2" cy="1025.5" r="5.6" fill="#4b4fa5" stroke="#404390" stroke-width="0.8"/>
<circle cx="423.8" cy="1034.1" r="5.9" fill="#4b4fa5" stroke="#404390" stroke-width="0.8"/>
<circle cx="422" cy="999" r="5.9" fill="#4b4fa5" stroke="#404390" stroke-width="0.8"/>
<circle cx="422.6" cy="1008.2" r="6.6" fill="#4b4fa5" stroke="#404390" stroke-width="0.8"/>
<circle cx="438.6" cy="993.5" r="7.2" fill="#4b4fa5" stroke="#404390" stroke-width="0.8"/>
<circle cx="437.4" cy="1003.3" r="6.9" fill="#4b4fa5" stroke="#404390" stroke-width="0.8"/>
<circle cx="438.6" cy="1013.2" r="7.2" fill="#4b4fa5" stroke="#404390" stroke-width="0.8"/>
<circle cx="443.5" cy="1007" r="6.4" fill="#4b4fa5" stroke="#404390" stroke-width="0.8"/>
<circle cx="454" cy="1008.8" r="5.4" fill="#4b4fa5" stroke="#404390" stroke-width="0.8"/>
<circle cx="440.5" cy="1026.7" r="5.9" fill="#4b4fa5" stroke="#404390" stroke-width="0.8"/>
<circle cx="423.8" cy="1038.2" r="6.6" fill="#4b4fa5" stroke="#404390" stroke-width="0.8"/>
<circle cx="430.6" cy="1049.3" r="6.3" fill="#4b4fa5" stroke="#404390" stroke-width="0.8"/>
<circle cx="427.3" cy="1061" r="5.9" fill="#4b4fa5" stroke="#404390" stroke-width="0.8"/>
<circle cx="306.2" cy="1062.2" r="5.6" fill="#4b4fa5" stroke="#404390" stroke-width="0.8"/>
<circle cx="400.5" cy="1070.2" r="5.9" fill="#4b4fa5" stroke="#404390" stroke-width="0.8"/>
<circle cx="409.7" cy="1073.9" r="6.6" fill="#4b4fa5" stroke="#404390" stroke-width="0.8"/>
<circle cx="418.9" cy="1079.5" r="6.6" fill="#4b4fa5" stroke="#404390" stroke-width="0.8"/>
<circle cx="428.8" cy="1075.2" r="6.6" fill="#4b4fa5" stroke="#404390" stroke-width="0.8"/>
<circle cx="406.6" cy="1088.7" r="6.3" fill="#4b4fa5" stroke="#404390" stroke-width="0.8"/>
<circle cx="420.2" cy="1085" r="6.3" fill="#4b4fa5" stroke="#404390" stroke-width="0.8"/>
<circle cx="438.6" cy="1085" r="6.6" fill="#4b4fa5" stroke="#404390" stroke-width="0.8"/>
<circle cx="437.4" cy="1092.4" r="7.2" fill="#4b4fa5" stroke="#404390" stroke-width="0.8"/>
<circle cx="413.4" cy="1098.5" r="5.9" fill="#4b4fa5" stroke="#404390" stroke-width="0.8"/>
<circle cx="389.7" cy="1070.8" r="5.9" fill="#4b4fa5" stroke="#404390" stroke-width="0.8"/>
<circle cx="397.1" cy="1069" r="5.9" fill="#4b4fa5" stroke="#404390" stroke-width="0.8"/>
<circle cx="377" cy="1074" r="5.9" fill="#4b4fa5" stroke="#404390" stroke-width="0.8"/>
<circle cx="304.9" cy="1145.2" r="5.9" fill="#4b4fa5" stroke="#404390" stroke-width="0.8"/>
<circle cx="354" cy="1108.2" r="5.9" fill="#4b4fa5" stroke="#404390" stroke-width="0.8"/>
<circle cx="389.7" cy="1143.9" r="6.6" fill="#4b4fa5" stroke="#404390" stroke-width="0.8"/>
<circle cx="397.1" cy="1150.7" r="6.3" fill="#4b4fa5" stroke="#404390" stroke-width="0.8"/>
<circle cx="412.8" cy="1100.8" r="5.9" fill="#4b4fa5" stroke="#404390" stroke-width="0.8"/>
<circle cx="422.6" cy="1108.8" r="5.6" fill="#4b4fa5" stroke="#404390" stroke-width="0.8"/>
<circle cx="415.2" cy="1131" r="7.5" fill="#4b4fa5" stroke="#404390" stroke-width="0.8"/>
<circle cx="421.7" cy="998.7" r="6.6" fill="#4b4fa5" stroke="#404390" stroke-width="0.8"/>
<circle cx="437.2" cy="993.8" r="7.2" fill="#4b4fa5" stroke="#404390" stroke-width="0.8"/>
<circle cx="424.1" cy="1010.1" r="6.9" fill="#4b4fa5" stroke="#404390" stroke-width="0.8"/>
<circle cx="437.2" cy="1007.7" r="7.2" fill="#4b4fa5" stroke="#404390" stroke-width="0.8"/>
<circle cx="443.7" cy="1010.1" r="6.6" fill="#4b4fa5" stroke="#404390" stroke-width="0.8"/>
<circle cx="438.8" cy="1017.5" r="6.9" fill="#4b4fa5" stroke="#404390" stroke-width="0.8"/>
<circle cx="429" cy="1002.8" r="6.6" fill="#4b4fa5" stroke="#404390" stroke-width="0.8"/>
<circle cx="432.3" cy="1015.9" r="6.9" fill="#4b4fa5" stroke="#404390" stroke-width="0.8"/>
<circle cx="439.7" cy="1027.3" r="6.4" fill="#4b4fa5" stroke="#404390" stroke-width="0.8"/>
<circle cx="404.5" cy="997.9" r="6.2" fill="#4b4fa5" stroke="#404390" stroke-width="0.8"/>
<circle cx="407" cy="1010.1" r="6.9" fill="#4b4fa5" stroke="#404390" stroke-width="0.8"/>
<circle cx="409.4" cy="1017.5" r="6.6" fill="#4b4fa5" stroke="#404390" stroke-width="0.8"/>
<circle cx="406.2" cy="1028.9" r="6.6" fill="#4b4fa5" stroke="#404390" stroke-width="0.8"/>
<circle cx="396.3" cy="1025.7" r="6.4" fill="#4b4fa5" stroke="#404390" stroke-width="0.8"/>
<circle cx="387.4" cy="1027.3" r="6.2" fill="#4b4fa5" stroke="#404390" stroke-width="0.8"/>
<circle cx="412.7" cy="1022.4" r="6.4" fill="#4b4fa5" stroke="#404390" stroke-width="0.8"/>
<circle cx="420" cy="1025.7" r="6.4" fill="#4b4fa5" stroke="#404390" stroke-width="0.8"/>
<circle cx="423.3" cy="1036.3" r="6.6" fill="#4b4fa5" stroke="#404390" stroke-width="0.8"/>
<circle cx="410.2" cy="1075.5" r="6.9" fill="#4b4fa5" stroke="#404390" stroke-width="0.8"/>
<circle cx="417.6" cy="1079.6" r="6.9" fill="#4b4fa5" stroke="#404390" stroke-width="0.8"/>
<circle cx="427.4" cy="1074.7" r="6.9" fill="#4b4fa5" stroke="#404390" stroke-width="0.8"/>
<circle cx="422.5" cy="1084.5" r="6.9" fill="#4b4fa5" stroke="#404390" stroke-width="0.8"/>
<circle cx="412.7" cy="1082.9" r="6.6" fill="#4b4fa5" stroke="#404390" stroke-width="0.8"/>
<circle cx="406.2" cy="1087.8" r="6.4" fill="#4b4fa5" stroke="#404390" stroke-width="0.8"/>
<circle cx="437.2" cy="1087.8" r="7.2" fill="#4b4fa5" stroke="#404390" stroke-width="0.8"/>
<circle cx="438.8" cy="1092.7" r="7.2" fill="#4b4fa5" stroke="#404390" stroke-width="0.8"/>
<circle cx="413.5" cy="1100" r="6.2" fill="#4b4fa5" stroke="#404390" stroke-width="0.8"/>
<circle cx="422.5" cy="1109" r="5.9" fill="#4b4fa5" stroke="#404390" stroke-width="0.8"/>
<circle cx="335.4" cy="993.2" r="6" fill="#c8d32d" stroke="#b8c32b" stroke-width="0.8"/>
<circle cx="318.5" cy="1011.3" r="6.3" fill="#c8d32d" stroke="#b8c32b" stroke-width="0.8"/>
<circle cx="323.4" cy="1007" r="6" fill="#c8d32d" stroke="#b8c32b" stroke-width="0.8"/>
<circle cx="336.3" cy="1008" r="6.2" fill="#c8d32d" stroke="#b8c32b" stroke-width="0.8"/>
<circle cx="307.4" cy="1019.1" r="5.6" fill="#c8d32d" stroke="#b8c32b" stroke-width="0.8"/>
<circle cx="328.3" cy="1035.5" r="5.9" fill="#c8d32d" stroke="#b8c32b" stroke-width="0.8"/>
<circle cx="375.9" cy="1000.6" r="5.9" fill="#c8d32d" stroke="#b8c32b" stroke-width="0.8"/>
<circle cx="385.4" cy="1008.8" r="5.6" fill="#c8d32d" stroke="#b8c32b" stroke-width="0.8"/>
<circle cx="376.8" cy="1024.2" r="6.4" fill="#c8d32d" stroke="#b8c32b" stroke-width="0.8"/>
<circle cx="308.2" cy="1073.9" r="5.9" fill="#c8d32d" stroke="#b8c32b" stroke-width="0.8"/>
<circle cx="333.8" cy="1067.2" r="5.9" fill="#c8d32d" stroke="#b8c32b" stroke-width="0.8"/>
<circle cx="298.2" cy="1087.5" r="5.9" fill="#c8d32d" stroke="#b8c32b" stroke-width="0.8"/>
<circle cx="318.5" cy="1078.8" r="6.4" fill="#c8d32d" stroke="#b8c32b" stroke-width="0.8"/>
<circle cx="327.7" cy="1077.6" r="6.4" fill="#c8d32d" stroke="#b8c32b" stroke-width="0.8"/>
<circle cx="337.5" cy="1076.4" r="6.4" fill="#c8d32d" stroke="#b8c32b" stroke-width="0.8"/>
<circle cx="312.9" cy="1088.7" r="6.4" fill="#c8d32d" stroke="#b8c32b" stroke-width="0.8"/>
<circle cx="322.8" cy="1086.2" r="6.4" fill="#c8d32d" stroke="#b8c32b" stroke-width="0.8"/>
<circle cx="332.6" cy="1086.2" r="6.4" fill="#c8d32d" stroke="#b8c32b" stroke-width="0.8"/>
<circle cx="316.6" cy="1098.5" r="6.4" fill="#c8d32d" stroke="#b8c32b" stroke-width="0.8"/>
<circle cx="327.7" cy="1096.1" r="6.4" fill="#c8d32d" stroke="#b8c32b" stroke-width="0.8"/>
<circle cx="337.5" cy="1094.8" r="6.4" fill="#c8d32d" stroke="#b8c32b" stroke-width="0.8"/>
<circle cx="340.5" cy="1077.6" r="6.4" fill="#c8d32d" stroke="#b8c32b" stroke-width="0.8"/>
<circle cx="357.7" cy="1081.3" r="5.9" fill="#c8d32d" stroke="#b8c32b" stroke-width="0.8"/>
<circle cx="370" cy="1076.4" r="5.9" fill="#c8d32d" stroke="#b8c32b" stroke-width="0.8"/>
<circle cx="374.9" cy="1075.2" r="5.9" fill="#c8d32d" stroke="#b8c32b" stroke-width="0.8"/>
<circle cx="383.5" cy="1081.3" r="5.4" fill="#c8d32d" stroke="#b8c32b" stroke-width="0.8"/>
<circle cx="346.6" cy="1083.8" r="6.4" fill="#c8d32d" stroke="#b8c32b" stroke-width="0.8"/>
<circle cx="363.8" cy="1083.8" r="6.4" fill="#c8d32d" stroke="#b8c32b" stroke-width="0.8"/>
<circle cx="372.5" cy="1084.4" r="6.4" fill="#c8d32d" stroke="#b8c32b" stroke-width="0.8"/>
<circle cx="340.5" cy="1091.2" r="6.4" fill="#c8d32d" stroke="#b8c32b" stroke-width="0.8"/>
<circle cx="350.3" cy="1097.3" r="6.4" fill="#c8d32d" stroke="#b8c32b" stroke-width="0.8"/>
<circle cx="373.7" cy="1097.3" r="5.9" fill="#c8d32d" stroke="#b8c32b" stroke-width="0.8"/>
<circle cx="398.3" cy="1073.9" r="5.4" fill="#c8d32d" stroke="#b8c32b" stroke-width="0.8"/>
<circle cx="447.2" cy="1085" r="5.9" fill="#c8d32d" stroke="#b8c32b" stroke-width="0.8"/>
<circle cx="305.5" cy="1101.5" r="5.9" fill="#c8d32d" stroke="#b8c32b" stroke-width="0.8"/>
<circle cx="324" cy="1102.7" r="6.4" fill="#c8d32d" stroke="#b8c32b" stroke-width="0.8"/>
<circle cx="332.6" cy="1111.3" r="5.9" fill="#c8d32d" stroke="#b8c32b" stroke-width="0.8"/>
<circle cx="330.2" cy="1124.8" r="5.9" fill="#c8d32d" stroke="#b8c32b" stroke-width="0.8"/>
<circle cx="282.8" cy="1151.3" r="5.9" fill="#c8d32d" stroke="#b8c32b" stroke-width="0.8"/>
<circle cx="310.5" cy="1142.1" r="6.3" fill="#c8d32d" stroke="#b8c32b" stroke-width="0.8"/>
<circle cx="311.7" cy="1149.5" r="6.3" fill="#c8d32d" stroke="#b8c32b" stroke-width="0.8"/>
<circle cx="320.3" cy="1139.6" r="6.4" fill="#c8d32d" stroke="#b8c32b" stroke-width="0.8"/>
<circle cx="328.9" cy="1137.2" r="6.4" fill="#c8d32d" stroke="#b8c32b" stroke-width="0.8"/>
<circle cx="337.5" cy="1135.9" r="6.4" fill="#c8d32d" stroke="#b8c32b" stroke-width="0.8"/>
<circle cx="322.8" cy="1148.2" r="6.4" fill="#c8d32d" stroke="#b8c32b" stroke-width="0.8"/>
<circle cx="331.4" cy="1145.8" r="6.4" fill="#c8d32d" stroke="#b8c32b" stroke-width="0.8"/>
<circle cx="327.7" cy="1154.4" r="6.4" fill="#c8d32d" stroke="#b8c32b" stroke-width="0.8"/>
<circle cx="337.5" cy="1151.9" r="6.4" fill="#c8d32d" stroke="#b8c32b" stroke-width="0.8"/>
<circle cx="335.1" cy="1159.3" r="5.9" fill="#c8d32d" stroke="#b8c32b" stroke-width="0.8"/>
<circle cx="350.3" cy="1100.2" r="5.9" fill="#c8d32d" stroke="#b8c32b" stroke-width="0.8"/>
<circle cx="339.2" cy="1107.6" r="6.4" fill="#c8d32d" stroke="#b8c32b" stroke-width="0.8"/>
<circle cx="349.1" cy="1110.7" r="5.9" fill="#c8d32d" stroke="#b8c32b" stroke-width="0.8"/>
<circle cx="363.8" cy="1132.8" r="6.6" fill="#c8d32d" stroke="#b8c32b" stroke-width="0.8"/>
<circle cx="340.5" cy="1135.9" r="6.4" fill="#c8d32d" stroke="#b8c32b" stroke-width="0.8"/>
<circle cx="355.2" cy="1143.3" r="6.3" fill="#c8d32d" stroke="#b8c32b" stroke-width="0.8"/>
<circle cx="345.4" cy="1148.2" r="6.4" fill="#c8d32d" stroke="#b8c32b" stroke-width="0.8"/>
<circle cx="365.1" cy="1149.5" r="5.9" fill="#c8d32d" stroke="#b8c32b" stroke-width="0.8"/>
<circle cx="356.5" cy="1153.2" r="6.4" fill="#c8d32d" stroke="#b8c32b" stroke-width="0.8"/>
<circle cx="341.7" cy="1155.6" r="6.4" fill="#c8d32d" stroke="#b8c32b" stroke-width="0.8"/>
<circle cx="406.6" cy="1145.8" r="5.1" fill="#c8d32d" stroke="#b8c32b" stroke-width="0.8"/>
<circle cx="300" cy="1082" r="6.4" fill="#c8d32d" stroke="#b8c32b" stroke-width="0.8"/>
<circle cx="306" cy="1078" r="6.4" fill="#c8d32d" stroke="#b8c32b" stroke-width="0.8"/>
<circle cx="315" cy="1072" r="5.9" fill="#c8d32d" stroke="#b8c32b" stroke-width="0.8"/>
<circle cx="325" cy="1071" r="5.9" fill="#c8d32d" stroke="#b8c32b" stroke-width="0.8"/>
<circle cx="322" cy="1094" r="6.4" fill="#c8d32d" stroke="#b8c32b" stroke-width="0.8"/>
<circle cx="312" cy="1097" r="6.4" fill="#c8d32d" stroke="#b8c32b" stroke-width="0.8"/>
<circle cx="318" cy="1106" r="6.4" fill="#c8d32d" stroke="#b8c32b" stroke-width="0.8"/>
<circle cx="330" cy="1104" r="5.9" fill="#c8d32d" stroke="#b8c32b" stroke-width="0.8"/>
<circle cx="340" cy="1100" r="5.9" fill="#c8d32d" stroke="#b8c32b" stroke-width="0.8"/>
<circle cx="345" cy="1088" r="6.4" fill="#c8d32d" stroke="#b8c32b" stroke-width="0.8"/>
<circle cx="356" cy="1089" r="5.9" fill="#c8d32d" stroke="#b8c32b" stroke-width="0.8"/>
<circle cx="352" cy="1078" r="5.9" fill="#c8d32d" stroke="#b8c32b" stroke-width="0.8"/>
<circle cx="365" cy="1079" r="5.9" fill="#c8d32d" stroke="#b8c32b" stroke-width="0.8"/>
<circle cx="380" cy="1086" r="5.9" fill="#c8d32d" stroke="#b8c32b" stroke-width="0.8"/>
<circle cx="388" cy="1083" r="5.4" fill="#c8d32d" stroke="#b8c32b" stroke-width="0.8"/>
<circle cx="348.5" cy="1073.3" r="6.4" fill="#4b4fa5" stroke="#404390" stroke-width="0.8"/>
<circle cx="355.8" cy="1074.5" r="6.2" fill="#4b4fa5" stroke="#404390" stroke-width="0.8"/>
<circle cx="350.9" cy="1064.7" r="5.9" fill="#c8d32d" stroke="#b8c32b" stroke-width="0.8"/>
<circle cx="303.7" cy="1089.9" r="5.9" fill="#4b4fa5" stroke="#404390" stroke-width="0.8"/>
<circle cx="300.6" cy="1095.5" r="5.9" fill="#4b4fa5" stroke="#404390" stroke-width="0.8"/>
<circle cx="372.5" cy="1153.2" r="5.6" fill="#4b4fa5" stroke="#404390" stroke-width="0.8"/>
<circle cx="350.3" cy="1159.9" r="5.9" fill="#4b4fa5" stroke="#404390" stroke-width="0.8"/>
<circle cx="401.1" cy="1149.5" r="5.4" fill="#4b4fa5" stroke="#404390" stroke-width="0.8"/>
<circle cx="410.9" cy="1155" r="6.3" fill="#4b4fa5" stroke="#404390" stroke-width="0.8"/>
<rect x="262" y="1162.6" width="210" height="10" fill="#fff"/>
<rect x="276.4" y="975.4" width="184.2" height="187.4" fill="none" stroke="#333" stroke-width="1.4"/>
<line x1="294.3" y1="1163.5" x2="294.3" y2="1165.5" stroke="#ccc" stroke-width="0.8"/>
<line x1="309.1" y1="1163.5" x2="309.1" y2="1165.5" stroke="#ccc" stroke-width="0.8"/>
<line x1="324.5" y1="1163.5" x2="324.5" y2="1165.5" stroke="#ccc" stroke-width="0.8"/>
<line x1="339.8" y1="1163.5" x2="339.8" y2="1165.5" stroke="#ccc" stroke-width="0.8"/>
<line x1="355.2" y1="1163.5" x2="355.2" y2="1165.5" stroke="#ccc" stroke-width="0.8"/>
<line x1="371" y1="1163.5" x2="371" y2="1165.5" stroke="#ccc" stroke-width="0.8"/>
<line x1="386.3" y1="1163.5" x2="386.3" y2="1165.5" stroke="#ccc" stroke-width="0.8"/>
<line x1="401.6" y1="1163.5" x2="401.6" y2="1165.5" stroke="#ccc" stroke-width="0.8"/>
<line x1="417" y1="1163.5" x2="417" y2="1165.5" stroke="#ccc" stroke-width="0.8"/>
<line x1="432.3" y1="1163.5" x2="432.3" y2="1165.5" stroke="#ccc" stroke-width="0.8"/>
<line x1="447.6" y1="1163.5" x2="447.6" y2="1165.5" stroke="#ccc" stroke-width="0.8"/>
<line x1="273.5" y1="982" x2="275.6" y2="982" stroke="#ccc" stroke-width="0.8"/>
<line x1="273.5" y1="999" x2="275.6" y2="999" stroke="#ccc" stroke-width="0.8"/>
<line x1="273.5" y1="1016.2" x2="275.6" y2="1016.2" stroke="#ccc" stroke-width="0.8"/>
<line x1="273.5" y1="1033.5" x2="275.6" y2="1033.5" stroke="#ccc" stroke-width="0.8"/>
<line x1="273.5" y1="1051" x2="275.6" y2="1051" stroke="#ccc" stroke-width="0.8"/>
<line x1="273.5" y1="1068.5" x2="275.6" y2="1068.5" stroke="#ccc" stroke-width="0.8"/>
<line x1="273.5" y1="1086" x2="275.6" y2="1086" stroke="#ccc" stroke-width="0.8"/>
<line x1="273.5" y1="1103.5" x2="275.6" y2="1103.5" stroke="#ccc" stroke-width="0.8"/>
<line x1="273.5" y1="1121" x2="275.6" y2="1121" stroke="#ccc" stroke-width="0.8"/>
<line x1="273.5" y1="1138.5" x2="275.6" y2="1138.5" stroke="#ccc" stroke-width="0.8"/>
<line x1="273.5" y1="1156" x2="275.6" y2="1156" stroke="#ccc" stroke-width="0.8"/>
<text x="277.24" y="1181.7" font-size="15.2" textLength="86.33" lengthAdjust="spacingAndGlyphs" fill="#222" stroke="#222" stroke-width="0.15">PCTP levels</text>
<text x="266.2" y="1156.08" font-size="15.3" textLength="68.25" lengthAdjust="spacingAndGlyphs" fill="#222" stroke="#222" stroke-width="0.15" transform="rotate(-90 266.2 1156.08)">PAR4-AP</text>
<text x="465.18" y="981.2" font-size="10.47" textLength="24.98" lengthAdjust="spacingAndGlyphs" fill="#222" stroke="#222" stroke-width="0.15">Color</text>
<text x="474.29" y="991.9" font-size="9.74" textLength="26.07" lengthAdjust="spacingAndGlyphs" font-weight="bold" fill="#111" stroke="#111" stroke-width="0.3">Race</text>
<rect x="475" y="996.4" width="6.3" height="6.3" fill="#4b4fa5"/>
<text x="483.72" y="1003.2" font-size="10.17" textLength="35.88" lengthAdjust="spacingAndGlyphs" fill="#222" stroke="#222" stroke-width="0.15">BLACK</text>
<rect x="475" y="1007.2" width="6.3" height="6.3" fill="#c8d32d"/>
<text x="484.57" y="1014" font-size="10.17" textLength="33.87" lengthAdjust="spacingAndGlyphs" fill="#222" stroke="#222" stroke-width="0.15">WHITE</text>
<text x="464.44" y="1038.7" font-size="11.77" textLength="20" lengthAdjust="spacingAndGlyphs" fill="#222" stroke="#222" stroke-width="0.15">Size</text>
<text x="472.73" y="1047.8" font-size="10.03" textLength="20.65" lengthAdjust="spacingAndGlyphs" font-weight="bold" fill="#111" stroke="#111" stroke-width="0.3">Age</text>
</svg>
</body></html>
